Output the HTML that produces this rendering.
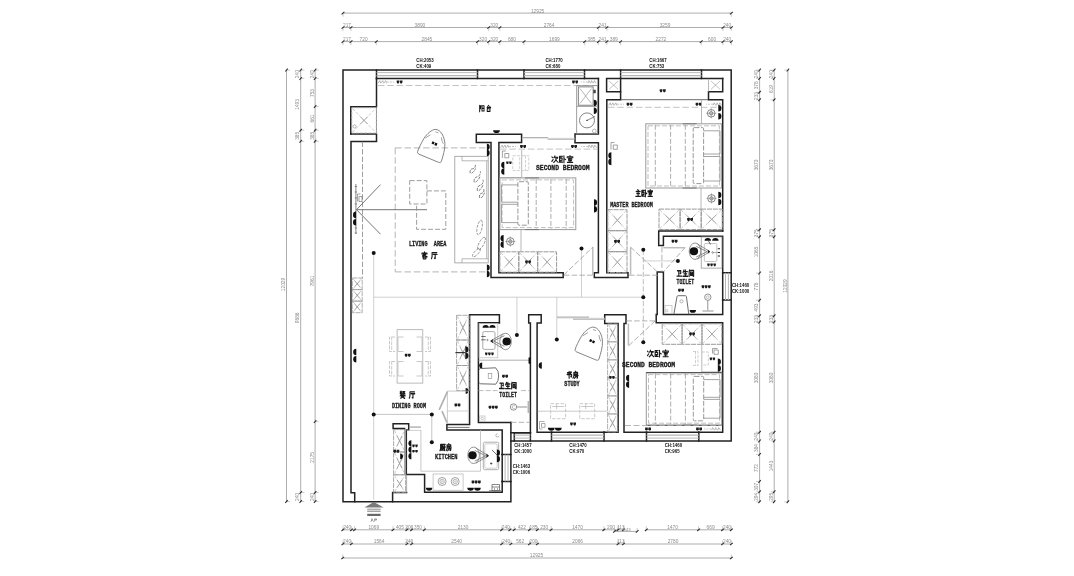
<!DOCTYPE html>
<html><head><meta charset="utf-8"><title>Floor plan</title>
<style>
html,body{margin:0;padding:0;background:#fff;}
body{width:1074px;height:576px;overflow:hidden;}
svg{display:block;}
text{font-family:"Liberation Sans",sans-serif;}
text[font-family="Liberation Mono"]{font-family:"Liberation Mono",monospace;white-space:pre;}
svg{will-change:transform;}
.tx{opacity:0.999;}
</style></head><body>
<svg width="1074" height="576" viewBox="0 0 1074 576">
<rect width="1074" height="576" fill="#fff"/>
<g stroke-linecap="square" stroke-linejoin="miter">
<path d="M343,70.1H731.2V440.9H510.9V501.8H343Z" stroke="#222" stroke-width="1.5" fill="none" />
<path d="M510.9,422.5V440.9" stroke="#222" stroke-width="1.5" fill="none" />
<path d="M376.5,78.5H598.4" stroke="#222" stroke-width="1.5" fill="none" />
<path d="M376.5,70.1V78.5M477.5,70.1V78.5M524,70.1V78.5M584.5,70.1V78.5" stroke="#222" stroke-width="1.5" fill="none" />
<path d="M376.5,78.5V106.8H350.8V134H376.5V141.6H351V492.8H354.7V501.8" stroke="#222" stroke-width="1.5" fill="none" />
<path d="M350.8,134H351" stroke="#222" stroke-width="1.5" fill="none" />
<path d="M598.4,78.5V134.1H575V142.7H598.4V272.8H594.3V277.5H628V272.8H606.8V99.7H620.6V91.8H606.6V78.6H722.7" stroke="#222" stroke-width="1.5" fill="none" />
<path d="M620.6,70.1V91.8M701.5,70.1V78.6" stroke="#222" stroke-width="1.5" fill="none" />
<path d="M722.7,78.6V91.8H708.5V99.7H722.7V231" stroke="#222" stroke-width="1.5" fill="none" />
<path d="M476.3,134.2H521.6V142.6H498.9V272.8H563.2V277.5H491V142.6H476.3Z" stroke="#222" stroke-width="1.5" fill="none" />
<path d="M722.7,231H658.7V245.6H663.4V236.2H722.7V272.8" stroke="#222" stroke-width="1.5" fill="none" />
<path d="M722.7,300V314.6H663.4V271.9H657.2V314.6H656.2V322.7H722.7V432.2H698.8" stroke="#222" stroke-width="1.5" fill="none" />
<path d="M722.7,272.8H731.2M722.7,300H731.2" stroke="#222" stroke-width="1.5" fill="none" />
<path d="M646.5,432.2H624V323.5H626V314.7H604.7V323.5H618.1V432.2H604" stroke="#222" stroke-width="1.5" fill="none" />
<path d="M646.5,432.2V440.9M698.8,432.2V440.9" stroke="#222" stroke-width="1.5" fill="none" />
<path d="M551.5,432.2H537.1V323.1H541.2V314.7H528.7V323.1H530.4V432.8H514.3" stroke="#222" stroke-width="1.5" fill="none" />
<path d="M551.5,432.2V440.9M604,432.2V440.9M514.3,432.8V440.9M530.4,432.8V440.9" stroke="#222" stroke-width="1.5" fill="none" />
<path d="M510.9,432.8H530.4M551.5,432.2H604M646.5,432.2H698.8M722.7,272.8V300M502.2,454.4V481.5" stroke="#222" stroke-width="1.5" fill="none" />
<path d="M499.4,322.7V314.7H469.6V424.5H446.9V430.1H502.2V454.4" stroke="#222" stroke-width="1.5" fill="none" />
<path d="M502.2,481.5V492.2H424.6V474.5H406.3V430H408.7V423.8H393.1V428.5H404.6" stroke="#222" stroke-width="1.5" fill="none" />
<path d="M499.4,322.7H478.4V422.5H510.9" stroke="#222" stroke-width="1.5" fill="none" />
<path d="M502.2,454.4H510.9M502.2,481.5H510.9" stroke="#222" stroke-width="1.5" fill="none" />
<path d="M392.6,492.6V501.8M392.6,492.6H406.6" stroke="#222" stroke-width="1.5" fill="none" />
</g>
<path d="M376.5,72.6L477.5,72.6" stroke="#b6b6b6" stroke-width="0.95" fill="none" />
<path d="M376.5,75.6L477.5,75.6" stroke="#b6b6b6" stroke-width="1.05" fill="none" />
<path d="M524.0,72.6L584.5,72.6" stroke="#b6b6b6" stroke-width="0.95" fill="none" />
<path d="M524.0,75.6L584.5,75.6" stroke="#b6b6b6" stroke-width="1.05" fill="none" />
<path d="M620.6,72.6L701.5,72.6" stroke="#b6b6b6" stroke-width="0.95" fill="none" />
<path d="M620.6,75.6L701.5,75.6" stroke="#b6b6b6" stroke-width="1.05" fill="none" />
<path d="M514.3,435.1L530.4,435.1" stroke="#b6b6b6" stroke-width="1.05" fill="none" />
<path d="M514.3,438.1L530.4,438.1" stroke="#b6b6b6" stroke-width="0.95" fill="none" />
<path d="M551.5,435.1L604.0,435.1" stroke="#b6b6b6" stroke-width="1.05" fill="none" />
<path d="M551.5,438.1L604.0,438.1" stroke="#b6b6b6" stroke-width="0.95" fill="none" />
<path d="M646.5,435.1L698.8,435.1" stroke="#b6b6b6" stroke-width="1.05" fill="none" />
<path d="M646.5,438.1L698.8,438.1" stroke="#b6b6b6" stroke-width="0.95" fill="none" />
<path d="M725.5,272.8L725.5,300.0" stroke="#b6b6b6" stroke-width="1.0" fill="none" />
<path d="M728.4,272.8L728.4,300.0" stroke="#b6b6b6" stroke-width="1.0" fill="none" />
<path d="M505.1,454.4L505.1,481.5" stroke="#b6b6b6" stroke-width="1.0" fill="none" />
<path d="M508.0,454.4L508.0,481.5" stroke="#b6b6b6" stroke-width="1.0" fill="none" />
<path d="M620.6,99.7L708.5,99.7" stroke="#444" stroke-width="0.8" fill="none" />
<path d="M708.5,78.6L708.5,91.8" stroke="#999" stroke-width="0.7" fill="none" />
<path d="M376.5,106.8L376.5,134.0" stroke="#8a8a8a" stroke-width="1.0" fill="none" />
<path d="M362.5,141.6L362.5,278.0" stroke="#8c8c8c" stroke-width="0.85" fill="none" stroke-dasharray="5.5 2"/>
<path d="M395.2,147.9L487.0,147.9" stroke="#a8a8a8" stroke-width="0.85" fill="none" stroke-dasharray="6.5 2.8"/>
<path d="M395.2,147.9L395.2,271.9" stroke="#a8a8a8" stroke-width="0.85" fill="none" stroke-dasharray="6.5 2.8"/>
<path d="M395.2,271.9L487.0,271.9" stroke="#a8a8a8" stroke-width="0.85" fill="none" stroke-dasharray="6.5 2.8"/>
<g transform="translate(0.0 0.0)" fill="none" stroke="#666" stroke-width="0.8"><path d="M435.2,129.4C432,129.6 427,133.5 423.9,138.5C421,143.5 418.6,148.5 417.6,151.5C417.2,152.8 417.8,153.6 419,154.2L438.5,162.3C440,162.9 441,162.5 441.4,161.3C443,156 445.2,149 444.9,143.7C444.5,137 441,129.3 435.2,129.4Z"/><path d="M425.2,138.1L430.4,134.8M441.3,137.4L442.2,141.5L443.4,143.8M435.4,131.8L438.3,132.9" stroke="#888"/><path d="M432.6,141.2l2.1,1l-1.1,2.3l-2.1,-1zM435.4,142.6l2.1,1l-1.1,2.3l-2.1,-1z" fill="#111" stroke="none"/></g>
<path d="M356.5,209.7H427M356.5,209.7L380.5,184.6M356.5,209.7L380.5,234.2" stroke="#666" stroke-width="0.9" fill="none" />
<path d="M355.9,184.0L355.9,234.0" stroke="#555" stroke-width="0.7" fill="none" />
<path d="M354.7,186.5h2.4M354.7,192h2.4M354.7,198h2.4M354.7,204h2.4M354.7,228h2.4M354.7,233h2.4" stroke="#555" stroke-width="0.6" fill="none" />
<path d="M356.1,211.6A3.1,3.3 0 0 0 356.1,218.2Z" fill="#111"/>
<path d="M356.1,218.9A3.1,3.3 0 0 0 356.1,225.5Z" fill="#111"/>
<path d="M357.5,194v7.5M357.5,194h3M359,196.5h3v5h-3z" stroke="#666" stroke-width="0.6" fill="none" />
<rect x="409.7" y="180.6" width="17.2" height="23.4" stroke="#8c8c8c" stroke-width="0.85" fill="none" stroke-dasharray="5 2"/>
<path d="M426.9,190.9H445.8V229.3H416.6V204" stroke="#8c8c8c" stroke-width="0.85" fill="none" stroke-dasharray="5 2"/>
<rect x="454.8" y="156.3" width="33.4" height="106.6" stroke="#999" stroke-width="0.8" fill="none" />
<path d="M462,156.3V160.8H488.2M462,262.9V258.8H488.2" stroke="#999" stroke-width="0.7" fill="none" />
<path d="M486.7,160.8L486.7,258.8" stroke="#999" stroke-width="0.7" fill="none" />
<path transform="translate(473 169) rotate(-50)" d="M-5,0.6Q-2.5,-2.6 0,-0.4Q2.5,1.8 5,-1.2M-4,1.6Q-1.6666666666666667,2.8 2.0,1.6" fill="none" stroke="#555" stroke-width="0.7" stroke-dasharray="3 1"/>
<path transform="translate(477.5 177) rotate(-52)" d="M-6.2,0.6Q-3.1,-2.6 0,-0.4Q3.1,1.8 6.2,-1.2M-5.2,1.6Q-2.066666666666667,2.8 2.4800000000000004,1.6" fill="none" stroke="#555" stroke-width="0.7" stroke-dasharray="3 1"/>
<path transform="translate(480.5 185.5) rotate(-55)" d="M-6.2,0.6Q-3.1,-2.6 0,-0.4Q3.1,1.8 6.2,-1.2M-5.2,1.6Q-2.066666666666667,2.8 2.4800000000000004,1.6" fill="none" stroke="#555" stroke-width="0.7" stroke-dasharray="3 1"/>
<path transform="translate(482 193.5) rotate(-58)" d="M-5,0.6Q-2.5,-2.6 0,-0.4Q2.5,1.8 5,-1.2M-4,1.6Q-1.6666666666666667,2.8 2.0,1.6" fill="none" stroke="#555" stroke-width="0.7" stroke-dasharray="3 1"/>
<ellipse cx="479.6" cy="227.5" rx="7.5" ry="2.4" transform="rotate(-78 479.6 227.5)" fill="none" stroke="#777" stroke-width="0.7" stroke-dasharray="2.8 1.2"/>
<ellipse cx="481.5" cy="243.5" rx="7" ry="2.4" transform="rotate(-62 481.5 243.5)" fill="none" stroke="#777" stroke-width="0.7" stroke-dasharray="2.8 1.2"/>
<ellipse cx="476.5" cy="252.5" rx="5.5" ry="2" transform="rotate(-48 476.5 252.5)" fill="none" stroke="#777" stroke-width="0.7" stroke-dasharray="2.8 1.2"/>
<path d="M486.9,143.8A2.8,3.1 0 0 1 486.9,150.0Z" fill="#111"/>
<path d="M486.9,149.8A2.8,3.1 0 0 1 486.9,156.0Z" fill="#111"/>
<path d="M486.9,264.4A2.8,3.2 0 0 1 486.9,270.8Z" fill="#111"/>
<path d="M486.9,270.8A2.8,3.2 0 0 1 486.9,277.2Z" fill="#111"/>
<rect x="352.3" y="278.0" width="9.9" height="11.6" stroke="#9a9a9a" stroke-width="0.8" fill="none" stroke-dasharray="5 0.8"/>
<path d="M353.3,279.0L361.2,288.6" stroke="#b4b4b4" stroke-width="0.7" fill="none" stroke-dasharray="3 1.6"/>
<path d="M353.3,288.6L361.2,279.0" stroke="#b4b4b4" stroke-width="0.7" fill="none" stroke-dasharray="3 1.6"/>
<path d="M354.8,280.9L359.7,286.7" stroke="#999" stroke-width="0.8" fill="none" />
<path d="M354.8,286.7L359.7,280.9" stroke="#999" stroke-width="0.8" fill="none" />
<rect x="352.3" y="289.6" width="9.9" height="11.5" stroke="#9a9a9a" stroke-width="0.8" fill="none" stroke-dasharray="5 0.8"/>
<path d="M353.3,290.6L361.2,300.1" stroke="#b4b4b4" stroke-width="0.7" fill="none" stroke-dasharray="3 1.6"/>
<path d="M353.3,300.1L361.2,290.6" stroke="#b4b4b4" stroke-width="0.7" fill="none" stroke-dasharray="3 1.6"/>
<path d="M354.8,292.5L359.7,298.2" stroke="#999" stroke-width="0.8" fill="none" />
<path d="M354.8,298.2L359.7,292.5" stroke="#999" stroke-width="0.8" fill="none" />
<rect x="352.3" y="301.1" width="9.9" height="11.6" stroke="#9a9a9a" stroke-width="0.8" fill="none" stroke-dasharray="5 0.8"/>
<path d="M353.3,302.1L361.2,311.7" stroke="#b4b4b4" stroke-width="0.7" fill="none" stroke-dasharray="3 1.6"/>
<path d="M353.3,311.7L361.2,302.1" stroke="#b4b4b4" stroke-width="0.7" fill="none" stroke-dasharray="3 1.6"/>
<path d="M354.8,304.0L359.7,309.8" stroke="#999" stroke-width="0.8" fill="none" />
<path d="M354.8,309.8L359.7,304.0" stroke="#999" stroke-width="0.8" fill="none" />
<path d="M373.7,253.1V499.8M373.7,297.2H643.3M581.5,248.4V297.2M643.3,260.9H678.2M516.9,297.2V334.9M556.8,297.2V339.4" stroke="#c4c4c4" stroke-width="0.8" fill="none" />
<path d="M643.3,249.7L643.3,342.2" stroke="#b0b0b0" stroke-width="0.8" fill="none" stroke-dasharray="5.5 1.8"/>
<path d="M373.7,414.4L431.8,414.4" stroke="#c0c0c0" stroke-width="0.9" fill="none" />
<path d="M431.8,414.4L431.8,442.3" stroke="#c0c0c0" stroke-width="0.9" fill="none" />
<path d="M356.3,348.7A3.1,3.3 0 0 0 356.3,355.3Z" fill="#111"/>
<path d="M356.3,356.0A3.1,3.3 0 0 0 356.3,362.6Z" fill="#111"/>
<path d="M378.0,85.5L597.0,85.5" stroke="#b8b8b8" stroke-width="0.85" fill="none" stroke-dasharray="6.5 2.8"/>
<path d="M378.0,83.2l1.8,-2.6l0.9,2.6M380.9,83.2l1.8,-2.6l0.9,2.6M383.9,83.2l1.8,-2.6l0.9,2.6" stroke="#777" stroke-width="0.5" fill="none" />
<path d="M386.8,82.0L394.0,82.0" stroke="#888" stroke-width="0.5" fill="none" stroke-dasharray="2 1"/>
<path d="M396.7,80.5h2.6v1.6l-0.7,1.3h-1.3l-0.7,-1.3z" fill="#1c1c1c"/>
<path d="M399.9,80.5h2.6v1.6l-0.7,1.3h-1.3l-0.7,-1.3z" fill="#1c1c1c"/>
<path d="M596.0,83.2l-1.6,-2.6l-0.8,2.6M593.2,83.2l-1.6,-2.6l-0.8,2.6M590.5,83.2l-1.6,-2.6l-0.8,2.6" stroke="#777" stroke-width="0.5" fill="none" />
<path d="M587.8,82.0L581.0,82.0" stroke="#888" stroke-width="0.5" fill="none" stroke-dasharray="2 1"/>
<path d="M572.2,80.5h2.6v1.6l-0.7,1.3h-1.3l-0.7,-1.3z" fill="#1c1c1c"/>
<path d="M575.4,80.5h2.6v1.6l-0.7,1.3h-1.3l-0.7,-1.3z" fill="#1c1c1c"/>
<rect x="351.8" y="107.8" width="24.5" height="25.2" stroke="#b4b4b4" stroke-width="0.7" fill="none" stroke-dasharray="3 1.2"/>
<path d="M352.8,108.8L375.3,132.0" stroke="#b4b4b4" stroke-width="0.7" fill="none" stroke-dasharray="3 1.6"/>
<path d="M352.8,132.0L375.3,108.8" stroke="#b4b4b4" stroke-width="0.7" fill="none" stroke-dasharray="3 1.6"/>
<path d="M360.6,116.9L367.5,123.9" stroke="#999" stroke-width="0.8" fill="none" />
<path d="M360.6,123.9L367.5,116.9" stroke="#999" stroke-width="0.8" fill="none" />
<circle cx="354.6" cy="126.5" r="1.6" stroke="#888" stroke-width="0.6" fill="none"/>
<rect x="576.7" y="85.7" width="20.9" height="47.9" stroke="#888" stroke-width="0.8" fill="none" />
<rect x="578.3" y="86.9" width="14.8" height="18.3" stroke="#666" stroke-width="0.8" fill="none" />
<path d="M580,88.6L591.4,103.5M591.4,88.6L580,103.5" stroke="#888" stroke-width="0.6" fill="none" />
<path d="M576.7,106.4L597.6,106.4" stroke="#888" stroke-width="0.8" fill="none" />
<circle cx="587.0" cy="120.4" r="7.5" stroke="#666" stroke-width="0.8" fill="none"/>
<circle cx="587.0" cy="120.4" r="0.7" fill="#111"/>
<path d="M587.0,120.4L595.0,116.5" stroke="#555" stroke-width="0.7" fill="none" />
<circle cx="594.3" cy="131.0" r="1.9" stroke="#888" stroke-width="0.6" fill="none"/>
<rect x="593.7" y="90.0" width="1.8" height="3.0" stroke="#444" stroke-width="0.5" fill="#444" />
<path d="M593.8,99.7A3.1,3.3 0 0 1 593.8,106.3Z" fill="#111"/>
<path d="M593.8,107.4A3.1,3.3 0 0 1 593.8,114.0Z" fill="#111"/>
<path d="M493.1,130.3A3.4,2.8 0 0 0 499.9,130.3Z" fill="#111"/>
<path d="M523,137.5H548M547.5,139.2H574.5" stroke="#b0b0b0" stroke-width="1.2" fill="none" />
<path d="M521.8,138.3L575.0,138.3" stroke="#ccc" stroke-width="0.6" fill="none" />
<path d="M500.0,149.1L597.5,149.1" stroke="#b8b8b8" stroke-width="0.85" fill="none" stroke-dasharray="6.5 2.8"/>
<path d="M500.5,147.7l1.7,-2.6l0.9,2.6M503.3,147.7l1.7,-2.6l0.9,2.6M506.2,147.7l1.7,-2.6l0.9,2.6" stroke="#777" stroke-width="0.5" fill="none" />
<path d="M509.0,146.5L516.0,146.5" stroke="#888" stroke-width="0.5" fill="none" stroke-dasharray="2 1"/>
<path d="M520.2,145.0h2.6v1.6l-0.7,1.3h-1.3l-0.7,-1.3z" fill="#1c1c1c"/>
<path d="M523.4,145.0h2.6v1.6l-0.7,1.3h-1.3l-0.7,-1.3z" fill="#1c1c1c"/>
<path d="M596.5,147.7l-1.7,-2.6l-0.9,2.6M593.7,147.7l-1.7,-2.6l-0.9,2.6M590.8,147.7l-1.7,-2.6l-0.9,2.6" stroke="#777" stroke-width="0.5" fill="none" />
<path d="M588.0,146.5L581.0,146.5" stroke="#888" stroke-width="0.5" fill="none" stroke-dasharray="2 1"/>
<path d="M571.2,145.0h2.6v1.6l-0.7,1.3h-1.3l-0.7,-1.3z" fill="#1c1c1c"/>
<path d="M574.4,145.0h2.6v1.6l-0.7,1.3h-1.3l-0.7,-1.3z" fill="#1c1c1c"/>
<path d="M521.7,150V177.6M499.3,177.6H521.7" stroke="#999" stroke-width="0.7" fill="none" />
<rect x="512.8" y="155.7" width="6.9" height="14.8" stroke="#bbb" stroke-width="0.7" fill="none" stroke-dasharray="3 1.3"/>
<path d="M522.2,155.7H528.8V170.5H522.2M525.5,155.7V170.5" stroke="#bbb" stroke-width="0.7" fill="none" stroke-dasharray="3 1.3"/>
<path d="M502.4,151v7M502.4,151h3.5M504.8,153.5h4v4.3h-4z" stroke="#666" stroke-width="0.6" fill="none" />
<path d="M504.3,161.8A3.1,3.3 0 0 0 504.3,168.4Z" fill="#111"/>
<path d="M504.3,168.2A3.1,3.3 0 0 0 504.3,174.8Z" fill="#111"/>
<path d="M506.2,161.4h2.4v1.5l-0.6,1.2h-1.2l-0.6,-1.2z" fill="#1c1c1c"/>
<path d="M509.2,161.4h2.4v1.5l-0.6,1.2h-1.2l-0.6,-1.2z" fill="#1c1c1c"/>
<rect x="499.9" y="177.9" width="75.9" height="51.7" stroke="#9a9a9a" stroke-width="1.0" fill="none" />
<rect x="502.1" y="179.9" width="71.5" height="47.7" stroke="#b0b0b0" stroke-width="0.8" fill="none" stroke-dasharray="5 2"/>
<path d="M517.9,184.9H501.5V202.2H517.9" stroke="#9a9a9a" stroke-width="0.9" fill="none" />
<path d="M517.9,204.3H501.5V222.6H517.9" stroke="#9a9a9a" stroke-width="0.9" fill="none" />
<rect x="517.9" y="181.7" width="10.4" height="43.5" rx="1.2" fill="none" stroke="#8c8c8c" stroke-width="0.9" stroke-dasharray="5 1.6"/>
<path d="M536.2,178.9L536.2,228.6" stroke="#a4a4a4" stroke-width="0.9" fill="none" stroke-dasharray="5 2"/>
<path d="M550.9,178.9L550.9,228.6" stroke="#a4a4a4" stroke-width="0.9" fill="none" stroke-dasharray="5 2"/>
<path d="M566.2,178.9L566.2,228.6" stroke="#a4a4a4" stroke-width="0.9" fill="none" stroke-dasharray="5 2"/>
<path d="M524.9,177.9L538.9,177.9" stroke="#777" stroke-width="1.0" fill="none" />
<path d="M524.9,229.6L538.9,229.6" stroke="#777" stroke-width="1.0" fill="none" />
<path d="M521,229.6V251.8" stroke="#999" stroke-width="0.7" fill="none" />
<circle cx="510.3" cy="241.5" r="3.8" stroke="#555" stroke-width="0.7" fill="none"/>
<circle cx="510.3" cy="241.5" r="1.7" stroke="#555" stroke-width="0.7" fill="none"/>
<path d="M505.2,241.5L515.4,241.5" stroke="#777" stroke-width="0.5" fill="none" />
<path d="M510.3,236.4L510.3,246.6" stroke="#777" stroke-width="0.5" fill="none" />
<path d="M503.6,235.0A3.1,3.3 0 0 0 503.6,241.6Z" fill="#111"/>
<path d="M503.6,241.3A3.1,3.3 0 0 0 503.6,247.9Z" fill="#111"/>
<rect x="499.9" y="251.8" width="18.9" height="20.4" stroke="#9a9a9a" stroke-width="1.0" fill="none" stroke-dasharray="5 0.8"/>
<path d="M500.9,252.8L517.8,271.2" stroke="#b4b4b4" stroke-width="0.7" fill="none" stroke-dasharray="3 1.6"/>
<path d="M500.9,271.2L517.8,252.8" stroke="#b4b4b4" stroke-width="0.7" fill="none" stroke-dasharray="3 1.6"/>
<path d="M505.6,257.9L513.1,266.1" stroke="#999" stroke-width="0.8" fill="none" />
<path d="M505.6,266.1L513.1,257.9" stroke="#999" stroke-width="0.8" fill="none" />
<rect x="518.8" y="251.8" width="18.9" height="20.4" stroke="#9a9a9a" stroke-width="1.0" fill="none" stroke-dasharray="5 0.8"/>
<path d="M519.8,252.8L536.7,271.2" stroke="#b4b4b4" stroke-width="0.7" fill="none" stroke-dasharray="3 1.6"/>
<path d="M519.8,271.2L536.7,252.8" stroke="#b4b4b4" stroke-width="0.7" fill="none" stroke-dasharray="3 1.6"/>
<path d="M524.5,257.9L532.0,266.1" stroke="#999" stroke-width="0.8" fill="none" />
<path d="M524.5,266.1L532.0,257.9" stroke="#999" stroke-width="0.8" fill="none" />
<rect x="537.7" y="251.8" width="18.9" height="20.4" stroke="#9a9a9a" stroke-width="1.0" fill="none" stroke-dasharray="5 0.8"/>
<path d="M538.7,252.8L555.6,271.2" stroke="#b4b4b4" stroke-width="0.7" fill="none" stroke-dasharray="3 1.6"/>
<path d="M538.7,271.2L555.6,252.8" stroke="#b4b4b4" stroke-width="0.7" fill="none" stroke-dasharray="3 1.6"/>
<path d="M543.4,257.9L550.9,266.1" stroke="#999" stroke-width="0.8" fill="none" />
<path d="M543.4,266.1L550.9,257.9" stroke="#999" stroke-width="0.8" fill="none" />
<path d="M525.2,260.5h2.6v1.6l-0.7,1.3h-1.3l-0.7,-1.3z" fill="#1c1c1c"/>
<path d="M528.4,260.5h2.6v1.6l-0.7,1.3h-1.3l-0.7,-1.3z" fill="#1c1c1c"/>
<path d="M594.0,199.3A3.1,3.3 0 0 1 594.0,205.9Z" fill="#111"/>
<path d="M594.0,205.9A3.1,3.3 0 0 1 594.0,212.5Z" fill="#111"/>
<path d="M592.8,247.1V275" stroke="#bdbdbd" stroke-width="1.5" fill="none" />
<path d="M563.6,275.2L592.8,247.1" stroke="#a0a0a0" stroke-width="0.85" fill="none" stroke-dasharray="5.5 2.2"/>
<path d="M564.0,275.2L594.0,275.2" stroke="#a4a4a4" stroke-width="0.85" fill="none" stroke-dasharray="5.5 2.2"/>
<path d="M608.0,107.3L722.0,107.3" stroke="#b8b8b8" stroke-width="0.85" fill="none" stroke-dasharray="6.5 2.8"/>
<path d="M608.5,105.4l1.7,-2.6l0.9,2.6M611.3,105.4l1.7,-2.6l0.9,2.6M614.2,105.4l1.7,-2.6l0.9,2.6" stroke="#777" stroke-width="0.5" fill="none" />
<path d="M617.0,104.2L624.0,104.2" stroke="#888" stroke-width="0.5" fill="none" stroke-dasharray="2 1"/>
<path d="M626.7,102.8h2.6v1.6l-0.7,1.3h-1.3l-0.7,-1.3z" fill="#1c1c1c"/>
<path d="M629.9,102.8h2.6v1.6l-0.7,1.3h-1.3l-0.7,-1.3z" fill="#1c1c1c"/>
<path d="M721.5,105.4l-1.7,-2.6l-0.9,2.6M718.7,105.4l-1.7,-2.6l-0.9,2.6M715.8,105.4l-1.7,-2.6l-0.9,2.6" stroke="#777" stroke-width="0.5" fill="none" />
<path d="M713.0,104.2L706.0,104.2" stroke="#888" stroke-width="0.5" fill="none" stroke-dasharray="2 1"/>
<path d="M695.7,102.8h2.6v1.6l-0.7,1.3h-1.3l-0.7,-1.3z" fill="#1c1c1c"/>
<path d="M698.9,102.8h2.6v1.6l-0.7,1.3h-1.3l-0.7,-1.3z" fill="#1c1c1c"/>
<path d="M659.7,89.2h2.7v1.7l-0.7,1.4h-1.3l-0.7,-1.4z" fill="#1c1c1c"/>
<path d="M663.0,89.2h2.7v1.7l-0.7,1.4h-1.3l-0.7,-1.4z" fill="#1c1c1c"/>
<path d="M609.2,81.2l8.8,8M618.0,81.2l-8.8,8" stroke="#999" stroke-width="0.6" fill="none" />
<path d="M711.1,81.2l8.8,8M719.9,81.2l-8.8,8" stroke="#999" stroke-width="0.6" fill="none" />
<path d="M701.5,99.7V123.4" stroke="#999" stroke-width="0.7" fill="none" />
<circle cx="711.2" cy="113.3" r="3.8" stroke="#555" stroke-width="0.7" fill="none"/>
<circle cx="711.2" cy="113.3" r="1.7" stroke="#555" stroke-width="0.7" fill="none"/>
<path d="M706.1,113.3L716.3,113.3" stroke="#777" stroke-width="0.5" fill="none" />
<path d="M711.2,108.2L711.2,118.4" stroke="#777" stroke-width="0.5" fill="none" />
<path d="M718.3,105.0A3.1,3.3 0 0 1 718.3,111.6Z" fill="#111"/>
<path d="M718.3,113.0A3.1,3.3 0 0 1 718.3,119.6Z" fill="#111"/>
<rect x="645.8" y="123.8" width="75.8" height="64.2" stroke="#9a9a9a" stroke-width="1.0" fill="none" />
<rect x="648.0" y="125.8" width="71.4" height="60.2" stroke="#b0b0b0" stroke-width="0.8" fill="none" stroke-dasharray="5 2"/>
<path d="M703.6,130.8H720.0V154.0H703.6" stroke="#9a9a9a" stroke-width="0.9" fill="none" />
<path d="M703.6,156.5H720.0V181.0H703.6" stroke="#9a9a9a" stroke-width="0.9" fill="none" />
<rect x="693.2" y="127.6" width="10.4" height="56.0" rx="1.2" fill="none" stroke="#8c8c8c" stroke-width="0.9" stroke-dasharray="5 1.6"/>
<path d="M685.3,124.8L685.3,187.0" stroke="#a4a4a4" stroke-width="0.9" fill="none" stroke-dasharray="5 2"/>
<path d="M670.6,124.8L670.6,187.0" stroke="#a4a4a4" stroke-width="0.9" fill="none" stroke-dasharray="5 2"/>
<path d="M655.3,124.8L655.3,187.0" stroke="#a4a4a4" stroke-width="0.9" fill="none" stroke-dasharray="5 2"/>
<path d="M696.6,123.8L682.6,123.8" stroke="#777" stroke-width="1.0" fill="none" />
<path d="M696.6,188.0L682.6,188.0" stroke="#777" stroke-width="1.0" fill="none" />
<path d="M701,188V209.1" stroke="#999" stroke-width="0.7" fill="none" />
<circle cx="711.5" cy="198.4" r="3.8" stroke="#555" stroke-width="0.7" fill="none"/>
<circle cx="711.5" cy="198.4" r="1.7" stroke="#555" stroke-width="0.7" fill="none"/>
<path d="M706.4,198.4L716.6,198.4" stroke="#777" stroke-width="0.5" fill="none" />
<path d="M711.5,193.3L711.5,203.5" stroke="#777" stroke-width="0.5" fill="none" />
<path d="M718.3,191.7A3.1,3.3 0 0 1 718.3,198.3Z" fill="#111"/>
<path d="M718.3,198.7A3.1,3.3 0 0 1 718.3,205.3Z" fill="#111"/>
<rect x="659.0" y="209.1" width="21.1" height="20.4" stroke="#9a9a9a" stroke-width="1.0" fill="none" stroke-dasharray="5 0.8"/>
<path d="M660.0,210.1L679.1,228.5" stroke="#b4b4b4" stroke-width="0.7" fill="none" stroke-dasharray="3 1.6"/>
<path d="M660.0,228.5L679.1,210.1" stroke="#b4b4b4" stroke-width="0.7" fill="none" stroke-dasharray="3 1.6"/>
<path d="M665.3,215.2L673.8,223.4" stroke="#999" stroke-width="0.8" fill="none" />
<path d="M665.3,223.4L673.8,215.2" stroke="#999" stroke-width="0.8" fill="none" />
<rect x="680.1" y="209.1" width="21.1" height="20.4" stroke="#9a9a9a" stroke-width="1.0" fill="none" stroke-dasharray="5 0.8"/>
<path d="M681.1,210.1L700.2,228.5" stroke="#b4b4b4" stroke-width="0.7" fill="none" stroke-dasharray="3 1.6"/>
<path d="M681.1,228.5L700.2,210.1" stroke="#b4b4b4" stroke-width="0.7" fill="none" stroke-dasharray="3 1.6"/>
<path d="M686.4,215.2L694.9,223.4" stroke="#999" stroke-width="0.8" fill="none" />
<path d="M686.4,223.4L694.9,215.2" stroke="#999" stroke-width="0.8" fill="none" />
<rect x="701.2" y="209.1" width="21.1" height="20.4" stroke="#9a9a9a" stroke-width="1.0" fill="none" stroke-dasharray="5 0.8"/>
<path d="M702.2,210.1L721.3,228.5" stroke="#b4b4b4" stroke-width="0.7" fill="none" stroke-dasharray="3 1.6"/>
<path d="M702.2,228.5L721.3,210.1" stroke="#b4b4b4" stroke-width="0.7" fill="none" stroke-dasharray="3 1.6"/>
<path d="M707.5,215.2L716.0,223.4" stroke="#999" stroke-width="0.8" fill="none" />
<path d="M707.5,223.4L716.0,215.2" stroke="#999" stroke-width="0.8" fill="none" />
<path d="M687.2,218.0h2.6v1.6l-0.7,1.3h-1.3l-0.7,-1.3z" fill="#1c1c1c"/>
<path d="M690.4,218.0h2.6v1.6l-0.7,1.3h-1.3l-0.7,-1.3z" fill="#1c1c1c"/>
<rect x="607.8" y="209.7" width="19.2" height="21.0" stroke="#9a9a9a" stroke-width="1.0" fill="none" stroke-dasharray="5 0.8"/>
<path d="M608.8,210.7L626.0,229.7" stroke="#b4b4b4" stroke-width="0.7" fill="none" stroke-dasharray="3 1.6"/>
<path d="M608.8,229.7L626.0,210.7" stroke="#b4b4b4" stroke-width="0.7" fill="none" stroke-dasharray="3 1.6"/>
<path d="M613.6,216.0L621.2,224.4" stroke="#999" stroke-width="0.8" fill="none" />
<path d="M613.6,224.4L621.2,216.0" stroke="#999" stroke-width="0.8" fill="none" />
<rect x="607.8" y="230.7" width="19.2" height="21.0" stroke="#9a9a9a" stroke-width="1.0" fill="none" stroke-dasharray="5 0.8"/>
<path d="M608.8,231.7L626.0,250.7" stroke="#b4b4b4" stroke-width="0.7" fill="none" stroke-dasharray="3 1.6"/>
<path d="M608.8,250.7L626.0,231.7" stroke="#b4b4b4" stroke-width="0.7" fill="none" stroke-dasharray="3 1.6"/>
<path d="M613.6,237.0L621.2,245.4" stroke="#999" stroke-width="0.8" fill="none" />
<path d="M613.6,245.4L621.2,237.0" stroke="#999" stroke-width="0.8" fill="none" />
<rect x="607.8" y="251.7" width="19.2" height="21.0" stroke="#9a9a9a" stroke-width="1.0" fill="none" stroke-dasharray="5 0.8"/>
<path d="M608.8,252.7L626.0,271.7" stroke="#b4b4b4" stroke-width="0.7" fill="none" stroke-dasharray="3 1.6"/>
<path d="M608.8,271.7L626.0,252.7" stroke="#b4b4b4" stroke-width="0.7" fill="none" stroke-dasharray="3 1.6"/>
<path d="M613.6,258.0L621.2,266.4" stroke="#999" stroke-width="0.8" fill="none" />
<path d="M613.6,266.4L621.2,258.0" stroke="#999" stroke-width="0.8" fill="none" />
<path d="M614.2,240.0h2.6v1.6l-0.7,1.3h-1.3l-0.7,-1.3z" fill="#1c1c1c"/>
<path d="M617.4,240.0h2.6v1.6l-0.7,1.3h-1.3l-0.7,-1.3z" fill="#1c1c1c"/>
<path d="M611,142.5v7M611,142.5h3.5M613.3,145h4v4.3h-4z" stroke="#666" stroke-width="0.6" fill="none" />
<path d="M611.4,152.3A3.1,3.3 0 0 0 611.4,158.9Z" fill="#111"/>
<path d="M611.4,158.6A3.1,3.3 0 0 0 611.4,165.2Z" fill="#111"/>
<path d="M630.6,247.4V274.7" stroke="#bdbdbd" stroke-width="1.5" fill="none" />
<path d="M630.5,247.1L658.0,272.5" stroke="#a0a0a0" stroke-width="0.85" fill="none" stroke-dasharray="5.5 2.2"/>
<path d="M629.0,275.2L658.0,275.2" stroke="#a4a4a4" stroke-width="0.85" fill="none" stroke-dasharray="5.5 2.2"/>
<path d="M661.9,247.0L661.9,272.0" stroke="#a4a4a4" stroke-width="0.85" fill="none" stroke-dasharray="5.5 2.2"/>
<path d="M663.4,247.7H684.8" stroke="#bdbdbd" stroke-width="1.5" fill="none" />
<path d="M685.3,247.3L663.6,271.7" stroke="#a0a0a0" stroke-width="0.85" fill="none" stroke-dasharray="5.5 2.2"/>
<path d="M671.7,239.8h2.6v1.6l-0.7,1.3h-1.3l-0.7,-1.3z" fill="#1c1c1c"/>
<path d="M674.9,239.8h2.6v1.6l-0.7,1.3h-1.3l-0.7,-1.3z" fill="#1c1c1c"/>
<rect x="701.2" y="236.9" width="20.8" height="31.2" stroke="#888" stroke-width="0.7" fill="none" />
<rect x="704.3" y="243.5" width="12.5" height="18.0" stroke="#aaa" stroke-width="0.7" fill="none" rx="1.2"/>
<path d="M717.8,248.7h2.2M717.8,252.5h2.2M717.8,256h2.2" stroke="#222" stroke-width="1.1" fill="none" />
<path d="M713.4,252.5L718.0,252.5" stroke="#888" stroke-width="0.6" fill="none" />
<path d="M708.5,241.0L710.6,244.5" stroke="#222" stroke-width="0.7" fill="none" />
<circle cx="712.6" cy="252.5" r="0.8" stroke="#444" stroke-width="0.5" fill="none"/>
<path d="M704.6,240.7A3.2,2.6 0 0 1 711.0,240.7Z" fill="#111"/>
<path d="M712.2,240.7A3.2,2.6 0 0 1 718.6,240.7Z" fill="#111"/>
<path d="M707.2,263.5h2.5v1.5l-0.6,1.3h-1.2l-0.6,-1.3z" fill="#1c1c1c"/>
<path d="M710.3,263.5h2.5v1.5l-0.6,1.3h-1.2l-0.6,-1.3z" fill="#1c1c1c"/>
<path d="M713.4,263.5h2.5v1.5l-0.6,1.3h-1.2l-0.6,-1.3z" fill="#1c1c1c"/>
<g transform="translate(695.0 251.2) rotate(0)"><ellipse cx="0" cy="0" rx="5.8" ry="8.2" fill="none" stroke="#666" stroke-width="0.7"/><path d="M2.4,-7.2L15,0.5L2.4,7.8M1.2,-4.8L12.2,0.5L1.2,5.8" fill="none" stroke="#666" stroke-width="0.7"/><path d="M12.8,-1.8L15.2,0.5L12.8,2.6Z" fill="#222"/><ellipse cx="-1.1" cy="0" rx="4.2" ry="4.0" fill="#111"/></g>
<path d="M678.2,288.8h2.6v1.6l-0.7,1.3h-1.3l-0.7,-1.3z" fill="#1c1c1c"/>
<path d="M681.4,288.8h2.6v1.6l-0.7,1.3h-1.3l-0.7,-1.3z" fill="#1c1c1c"/>
<path d="M701.7,285.3h2.6v1.6l-0.7,1.3h-1.3l-0.7,-1.3z" fill="#1c1c1c"/>
<path d="M704.9,285.3h2.6v1.6l-0.7,1.3h-1.3l-0.7,-1.3z" fill="#1c1c1c"/>
<path d="M708.1,285.3h2.6v1.6l-0.7,1.3h-1.3l-0.7,-1.3z" fill="#1c1c1c"/>
<path d="M673.9,314.2L677,296.6Q677.2,295.7 678.1,295.7H685.3Q686.2,295.7 686.4,296.6L688.8,314.2" stroke="#666" stroke-width="0.95" fill="none" />
<circle cx="681.5" cy="301.3" r="1.6" stroke="#888" stroke-width="0.6" fill="none"/>
<rect x="665.0" y="305.5" width="7.0" height="8.0" stroke="#bbb" stroke-width="0.7" fill="none" />
<circle cx="666.8" cy="310.8" r="1.2" stroke="#999" stroke-width="0.5" fill="none"/>
<path d="M689.6,309.9A3.2,2.9 0 0 0 696.0,309.9Z" fill="#111"/>
<circle cx="707.8" cy="297.2" r="3.2" stroke="#777" stroke-width="0.8" fill="none"/>
<circle cx="707.8" cy="297.2" r="1.4" stroke="#999" stroke-width="0.6" fill="none"/>
<path d="M707.8,300.4V310.3M702.5,311H713.5" stroke="#888" stroke-width="0.9" fill="none" />
<rect x="662.2" y="323.8" width="19.9" height="20.5" stroke="#9a9a9a" stroke-width="1.0" fill="none" stroke-dasharray="5 0.8"/>
<path d="M663.2,324.8L681.1,343.3" stroke="#b4b4b4" stroke-width="0.7" fill="none" stroke-dasharray="3 1.6"/>
<path d="M663.2,343.3L681.1,324.8" stroke="#b4b4b4" stroke-width="0.7" fill="none" stroke-dasharray="3 1.6"/>
<path d="M668.2,329.9L676.1,338.2" stroke="#999" stroke-width="0.8" fill="none" />
<path d="M668.2,338.2L676.1,329.9" stroke="#999" stroke-width="0.8" fill="none" />
<rect x="682.1" y="323.8" width="19.9" height="20.5" stroke="#9a9a9a" stroke-width="1.0" fill="none" stroke-dasharray="5 0.8"/>
<path d="M683.1,324.8L701.0,343.3" stroke="#b4b4b4" stroke-width="0.7" fill="none" stroke-dasharray="3 1.6"/>
<path d="M683.1,343.3L701.0,324.8" stroke="#b4b4b4" stroke-width="0.7" fill="none" stroke-dasharray="3 1.6"/>
<path d="M688.1,329.9L696.0,338.2" stroke="#999" stroke-width="0.8" fill="none" />
<path d="M688.1,338.2L696.0,329.9" stroke="#999" stroke-width="0.8" fill="none" />
<rect x="702.0" y="323.8" width="19.9" height="20.5" stroke="#9a9a9a" stroke-width="1.0" fill="none" stroke-dasharray="5 0.8"/>
<path d="M703.0,324.8L720.9,343.3" stroke="#b4b4b4" stroke-width="0.7" fill="none" stroke-dasharray="3 1.6"/>
<path d="M703.0,343.3L720.9,324.8" stroke="#b4b4b4" stroke-width="0.7" fill="none" stroke-dasharray="3 1.6"/>
<path d="M708.0,329.9L715.9,338.2" stroke="#999" stroke-width="0.8" fill="none" />
<path d="M708.0,338.2L715.9,329.9" stroke="#999" stroke-width="0.8" fill="none" />
<path d="M689.2,332.5h2.6v1.6l-0.7,1.3h-1.3l-0.7,-1.3z" fill="#1c1c1c"/>
<path d="M692.4,332.5h2.6v1.6l-0.7,1.3h-1.3l-0.7,-1.3z" fill="#1c1c1c"/>
<path d="M701.8,344.3V371.9M701.8,371.9H722" stroke="#999" stroke-width="0.7" fill="none" />
<path d="M693,351.5H698V365.5H693M695.5,351.5V365.5" stroke="#bbb" stroke-width="0.7" fill="none" stroke-dasharray="3 1.3"/>
<path d="M701.8,352h6.5v13h-6.5" stroke="#bbb" stroke-width="0.7" fill="none" stroke-dasharray="3 1.3"/>
<path d="M712.5,348.5h5M712.5,348.5v5M714,350h4.3v4.3h-4.3z" stroke="#666" stroke-width="0.6" fill="none" />
<path d="M717.8,358.5A3.1,3.3 0 0 1 717.8,365.1Z" fill="#111"/>
<path d="M717.8,365.1A3.1,3.3 0 0 1 717.8,371.7Z" fill="#111"/>
<path d="M709.7,357.5h2.4v1.5l-0.6,1.2h-1.2l-0.6,-1.2z" fill="#1c1c1c"/>
<path d="M712.7,357.5h2.4v1.5l-0.6,1.2h-1.2l-0.6,-1.2z" fill="#1c1c1c"/>
<rect x="646.3" y="372.6" width="75.4" height="52.6" stroke="#9a9a9a" stroke-width="1.0" fill="none" />
<rect x="648.5" y="374.6" width="71.0" height="48.6" stroke="#b0b0b0" stroke-width="0.8" fill="none" stroke-dasharray="5 2"/>
<path d="M703.7,379.6H720.1V397.3H703.7" stroke="#9a9a9a" stroke-width="0.9" fill="none" />
<path d="M703.7,399.4H720.1V418.2H703.7" stroke="#9a9a9a" stroke-width="0.9" fill="none" />
<rect x="693.3" y="376.4" width="10.4" height="44.4" rx="1.2" fill="none" stroke="#8c8c8c" stroke-width="0.9" stroke-dasharray="5 1.6"/>
<path d="M685.4,373.6L685.4,424.2" stroke="#a4a4a4" stroke-width="0.9" fill="none" stroke-dasharray="5 2"/>
<path d="M670.7,373.6L670.7,424.2" stroke="#a4a4a4" stroke-width="0.9" fill="none" stroke-dasharray="5 2"/>
<path d="M655.4,373.6L655.4,424.2" stroke="#a4a4a4" stroke-width="0.9" fill="none" stroke-dasharray="5 2"/>
<path d="M696.7,372.6L682.7,372.6" stroke="#777" stroke-width="1.0" fill="none" />
<path d="M696.7,425.2L682.7,425.2" stroke="#777" stroke-width="1.0" fill="none" />
<path d="M646.3,372.6L721.7,372.6" stroke="#555" stroke-width="1.1" fill="none" />
<path d="M646.3,425.4L721.7,425.4" stroke="#666" stroke-width="1.1" fill="none" />
<path d="M625.0,425.5L722.0,425.5" stroke="#a8a8a8" stroke-width="0.85" fill="none" stroke-dasharray="6 2.5"/>
<path d="M645.2,427.6h2.6v1.6l-0.7,1.3h-1.3l-0.7,-1.3z" fill="#1c1c1c"/>
<path d="M648.4,427.6h2.6v1.6l-0.7,1.3h-1.3l-0.7,-1.3z" fill="#1c1c1c"/>
<path d="M696.2,427.6h2.6v1.6l-0.7,1.3h-1.3l-0.7,-1.3z" fill="#1c1c1c"/>
<path d="M699.4,427.6h2.6v1.6l-0.7,1.3h-1.3l-0.7,-1.3z" fill="#1c1c1c"/>
<path d="M720.5,430.2l-1.8,-2.6l-0.9,2.6M717.5,430.2l-1.8,-2.6l-0.9,2.6M714.5,430.2l-1.8,-2.6l-0.9,2.6" stroke="#777" stroke-width="0.5" fill="none" />
<path d="M711.4,429.0L704.0,429.0" stroke="#888" stroke-width="0.5" fill="none" stroke-dasharray="2 1"/>
<path d="M629.1,374.7A3.1,3.3 0 0 0 629.1,381.3Z" fill="#111"/>
<path d="M629.1,381.3A3.1,3.3 0 0 0 629.1,387.9Z" fill="#111"/>
<path d="M628.4,323.5V345.6" stroke="#bdbdbd" stroke-width="1.5" fill="none" />
<path d="M628.8,345.6L655.6,320.5" stroke="#a0a0a0" stroke-width="0.85" fill="none" stroke-dasharray="5.5 2.2"/>
<path d="M626.5,320.9L656.0,320.9" stroke="#a4a4a4" stroke-width="0.85" fill="none" stroke-dasharray="5.5 2.2"/>
<g transform="translate(157.6 197.7)" fill="none" stroke="#666" stroke-width="0.8"><path d="M435.2,129.4C432,129.6 427,133.5 423.9,138.5C421,143.5 418.6,148.5 417.6,151.5C417.2,152.8 417.8,153.6 419,154.2L438.5,162.3C440,162.9 441,162.5 441.4,161.3C443,156 445.2,149 444.9,143.7C444.5,137 441,129.3 435.2,129.4Z"/><path d="M425.2,138.1L430.4,134.8M441.3,137.4L442.2,141.5L443.4,143.8M435.4,131.8L438.3,132.9" stroke="#888"/><path d="M432.6,141.2l2.1,1l-1.1,2.3l-2.1,-1zM435.4,142.6l2.1,1l-1.1,2.3l-2.1,-1z" fill="#111" stroke="none"/></g>
<rect x="607.6" y="323.8" width="9.8" height="18.0" stroke="#9a9a9a" stroke-width="0.8" fill="none" stroke-dasharray="5 0.8"/>
<path d="M608.6,324.8L616.4,340.8" stroke="#b4b4b4" stroke-width="0.7" fill="none" stroke-dasharray="3 1.6"/>
<path d="M608.6,340.8L616.4,324.8" stroke="#b4b4b4" stroke-width="0.7" fill="none" stroke-dasharray="3 1.6"/>
<path d="M610.0,328.3L615.0,337.3" stroke="#999" stroke-width="0.8" fill="none" />
<path d="M610.0,337.3L615.0,328.3" stroke="#999" stroke-width="0.8" fill="none" />
<rect x="607.6" y="341.8" width="9.8" height="18.0" stroke="#9a9a9a" stroke-width="0.8" fill="none" stroke-dasharray="5 0.8"/>
<path d="M608.6,342.8L616.4,358.9" stroke="#b4b4b4" stroke-width="0.7" fill="none" stroke-dasharray="3 1.6"/>
<path d="M608.6,358.9L616.4,342.8" stroke="#b4b4b4" stroke-width="0.7" fill="none" stroke-dasharray="3 1.6"/>
<path d="M610.0,346.3L615.0,355.4" stroke="#999" stroke-width="0.8" fill="none" />
<path d="M610.0,355.4L615.0,346.3" stroke="#999" stroke-width="0.8" fill="none" />
<rect x="607.6" y="359.9" width="9.8" height="18.0" stroke="#9a9a9a" stroke-width="0.8" fill="none" stroke-dasharray="5 0.8"/>
<path d="M608.6,360.9L616.4,376.9" stroke="#b4b4b4" stroke-width="0.7" fill="none" stroke-dasharray="3 1.6"/>
<path d="M608.6,376.9L616.4,360.9" stroke="#b4b4b4" stroke-width="0.7" fill="none" stroke-dasharray="3 1.6"/>
<path d="M610.0,364.4L615.0,373.4" stroke="#999" stroke-width="0.8" fill="none" />
<path d="M610.0,373.4L615.0,364.4" stroke="#999" stroke-width="0.8" fill="none" />
<rect x="607.6" y="377.9" width="9.8" height="18.0" stroke="#9a9a9a" stroke-width="0.8" fill="none" stroke-dasharray="5 0.8"/>
<path d="M608.6,378.9L616.4,394.9" stroke="#b4b4b4" stroke-width="0.7" fill="none" stroke-dasharray="3 1.6"/>
<path d="M608.6,394.9L616.4,378.9" stroke="#b4b4b4" stroke-width="0.7" fill="none" stroke-dasharray="3 1.6"/>
<path d="M610.0,382.4L615.0,391.4" stroke="#999" stroke-width="0.8" fill="none" />
<path d="M610.0,391.4L615.0,382.4" stroke="#999" stroke-width="0.8" fill="none" />
<rect x="607.6" y="395.9" width="9.8" height="18.0" stroke="#9a9a9a" stroke-width="0.8" fill="none" stroke-dasharray="5 0.8"/>
<path d="M608.6,396.9L616.4,413.0" stroke="#b4b4b4" stroke-width="0.7" fill="none" stroke-dasharray="3 1.6"/>
<path d="M608.6,413.0L616.4,396.9" stroke="#b4b4b4" stroke-width="0.7" fill="none" stroke-dasharray="3 1.6"/>
<path d="M610.0,400.4L615.0,409.5" stroke="#999" stroke-width="0.8" fill="none" />
<path d="M610.0,409.5L615.0,400.4" stroke="#999" stroke-width="0.8" fill="none" />
<rect x="607.6" y="414.0" width="9.8" height="18.0" stroke="#9a9a9a" stroke-width="0.8" fill="none" stroke-dasharray="5 0.8"/>
<path d="M608.6,415.0L616.4,431.0" stroke="#b4b4b4" stroke-width="0.7" fill="none" stroke-dasharray="3 1.6"/>
<path d="M608.6,431.0L616.4,415.0" stroke="#b4b4b4" stroke-width="0.7" fill="none" stroke-dasharray="3 1.6"/>
<path d="M610.0,418.5L615.0,427.5" stroke="#999" stroke-width="0.8" fill="none" />
<path d="M610.0,427.5L615.0,418.5" stroke="#999" stroke-width="0.8" fill="none" />
<path d="M609.2,376.0h2.4v1.5l-0.6,1.2h-1.2l-0.6,-1.2z" fill="#1c1c1c"/>
<path d="M612.2,376.0h2.4v1.5l-0.6,1.2h-1.2l-0.6,-1.2z" fill="#1c1c1c"/>
<path d="M556.8,317.2H589M573,319.2H605" stroke="#b0b0b0" stroke-width="1.2" fill="none" />
<path d="M556.8,318.2L605.0,318.2" stroke="#ccc" stroke-width="0.6" fill="none" />
<path d="M541.8,362.2A3.1,3.3 0 0 0 541.8,368.8Z" fill="#111"/>
<path d="M537.6,411.2L607.0,411.2" stroke="#bbb" stroke-width="0.8" fill="none" />
<path d="M550.6,403.7H565.6V418.7H550.6Z" stroke="#bbb" stroke-width="0.8" fill="none" stroke-dasharray="3.5 1.5"/>
<path d="M552.1,406.5H564.1M556.6,403.7V409" stroke="#bbb" stroke-width="0.8" fill="none" />
<path d="M579.7,403.7H594.7V418.7H579.7Z" stroke="#bbb" stroke-width="0.8" fill="none" stroke-dasharray="3.5 1.5"/>
<path d="M581.2,406.5H593.2M585.7,403.7V409" stroke="#bbb" stroke-width="0.8" fill="none" />
<path d="M570.2,422.5h2.6v1.6l-0.7,1.3h-1.3l-0.7,-1.3z" fill="#1c1c1c"/>
<path d="M573.4,422.5h2.6v1.6l-0.7,1.3h-1.3l-0.7,-1.3z" fill="#1c1c1c"/>
<path d="M539.5,421.5v7.5M539.5,421.5h5M541.5,423.5h3.5v3.8h-3.5zM539.5,429h3" stroke="#777" stroke-width="0.6" fill="none" />
<path d="M547.9,427.8A3.4,3.0 0 0 0 554.7,427.8Z" fill="#111"/>
<path d="M554.9,427.8A3.4,3.0 0 0 0 561.7,427.8Z" fill="#111"/>
<rect x="479.0" y="323.5" width="18.8" height="34.3" stroke="#bbb" stroke-width="0.7" fill="none" />
<rect x="482.8" y="331.6" width="12.2" height="17.8" stroke="#888" stroke-width="0.7" fill="none" rx="1.5"/>
<path d="M481.2,336.5h4.5M481.2,339.8h4.5" stroke="#333" stroke-width="0.7" fill="none" />
<circle cx="487.5" cy="340.0" r="0.7" stroke="#444" stroke-width="0.5" fill="none"/>
<path d="M482.5,327.8A3.2,2.9 0 0 1 488.9,327.8Z" fill="#111"/>
<path d="M489.2,327.8A3.2,2.9 0 0 1 495.6,327.8Z" fill="#111"/>
<path d="M485.0,352.5h2.5v1.5l-0.6,1.3h-1.2l-0.6,-1.3z" fill="#1c1c1c"/>
<path d="M488.1,352.5h2.5v1.5l-0.6,1.3h-1.2l-0.6,-1.3z" fill="#1c1c1c"/>
<path d="M491.2,352.5h2.5v1.5l-0.6,1.3h-1.2l-0.6,-1.3z" fill="#1c1c1c"/>
<g transform="translate(505.6 341.5) rotate(180)"><ellipse cx="0" cy="0" rx="5.8" ry="8.2" fill="none" stroke="#666" stroke-width="0.7"/><path d="M2.4,-7.2L15,0.5L2.4,7.8M1.2,-4.8L12.2,0.5L1.2,5.8" fill="none" stroke="#666" stroke-width="0.7"/><path d="M12.8,-1.8L15.2,0.5L12.8,2.6Z" fill="#222"/><ellipse cx="-1.1" cy="0" rx="4.2" ry="4.0" fill="#111"/></g>
<path d="M478.4,360.2H530.4" stroke="#999" stroke-width="0.8" fill="none" />
<rect x="528.9" y="357.8" width="1.5" height="5.6" stroke="#111" stroke-width="0.6" fill="#111" />
<path d="M482.2,362.5A3.0,3.0 0 0 0 482.2,368.5Z" fill="#111"/>
<path d="M479.4,369.6Q479.4,368.6 480.6,368.5L495.6,367.8Q499,371 498.6,376Q498.8,381 495.8,384.2L480.6,383.8Q479.4,383.7 479.4,382.6" stroke="#666" stroke-width="0.95" fill="none" />
<rect x="488.2" y="373.5" width="3.6" height="5.0" stroke="#888" stroke-width="0.6" fill="none" />
<path d="M502.2,374.8h2.6v1.6l-0.7,1.3h-1.3l-0.7,-1.3z" fill="#1c1c1c"/>
<path d="M505.4,374.8h2.6v1.6l-0.7,1.3h-1.3l-0.7,-1.3z" fill="#1c1c1c"/>
<path d="M478.4,390.6L497.5,390.6" stroke="#aaa" stroke-width="0.8" fill="none" stroke-dasharray="5 2.2"/>
<path d="M521.0,390.6L530.0,390.6" stroke="#aaa" stroke-width="0.8" fill="none" stroke-dasharray="5 2.2"/>
<path d="M488.7,405.8h2.6v1.6l-0.7,1.3h-1.3l-0.7,-1.3z" fill="#1c1c1c"/>
<path d="M491.9,405.8h2.6v1.6l-0.7,1.3h-1.3l-0.7,-1.3z" fill="#1c1c1c"/>
<path d="M495.1,405.8h2.6v1.6l-0.7,1.3h-1.3l-0.7,-1.3z" fill="#1c1c1c"/>
<circle cx="513.5" cy="407.0" r="3.2" stroke="#777" stroke-width="0.8" fill="none"/>
<path d="M514.8,405.8a1.6,1.6 0 1 0 0,2.4" stroke="#888" stroke-width="0.6" fill="none" />
<path d="M516.7,407H527.2M528.2,401V413" stroke="#888" stroke-width="0.9" fill="none" />
<rect x="479.4" y="416.0" width="5.6" height="5.2" stroke="#bbb" stroke-width="0.7" fill="none" />
<circle cx="482.2" cy="418.6" r="1.3" stroke="#999" stroke-width="0.5" fill="none"/>
<path d="M511.0,422.3L530.0,422.3" stroke="#a4a4a4" stroke-width="0.85" fill="none" stroke-dasharray="5.5 2.2"/>
<rect x="456.6" y="315.3" width="12.6" height="24.7" stroke="#9a9a9a" stroke-width="0.85" fill="none" stroke-dasharray="5 0.8"/>
<path d="M457.6,316.3L468.2,339.0" stroke="#b4b4b4" stroke-width="0.7" fill="none" stroke-dasharray="3 1.6"/>
<path d="M457.6,339.0L468.2,316.3" stroke="#b4b4b4" stroke-width="0.7" fill="none" stroke-dasharray="3 1.6"/>
<path d="M460.1,322.2L465.7,333.1" stroke="#999" stroke-width="0.8" fill="none" />
<path d="M460.1,333.1L465.7,322.2" stroke="#999" stroke-width="0.8" fill="none" />
<rect x="456.6" y="340.0" width="12.6" height="25.5" stroke="#9a9a9a" stroke-width="0.85" fill="none" stroke-dasharray="5 0.8"/>
<path d="M457.6,341.0L468.2,364.5" stroke="#b4b4b4" stroke-width="0.7" fill="none" stroke-dasharray="3 1.6"/>
<path d="M457.6,364.5L468.2,341.0" stroke="#b4b4b4" stroke-width="0.7" fill="none" stroke-dasharray="3 1.6"/>
<path d="M460.1,347.1L465.7,358.4" stroke="#999" stroke-width="0.8" fill="none" />
<path d="M460.1,358.4L465.7,347.1" stroke="#999" stroke-width="0.8" fill="none" />
<rect x="456.6" y="365.5" width="12.6" height="25.1" stroke="#9a9a9a" stroke-width="0.85" fill="none" stroke-dasharray="5 0.8"/>
<path d="M457.6,366.5L468.2,389.6" stroke="#b4b4b4" stroke-width="0.7" fill="none" stroke-dasharray="3 1.6"/>
<path d="M457.6,389.6L468.2,366.5" stroke="#b4b4b4" stroke-width="0.7" fill="none" stroke-dasharray="3 1.6"/>
<path d="M460.1,372.5L465.7,383.6" stroke="#999" stroke-width="0.8" fill="none" />
<path d="M460.1,383.6L465.7,372.5" stroke="#999" stroke-width="0.8" fill="none" />
<path d="M465.3,346.3A3.1,3.3 0 0 1 465.3,352.9Z" fill="#111"/>
<path d="M465.3,352.5A3.1,3.3 0 0 1 465.3,359.1Z" fill="#111"/>
<path d="M455.4,352.7h9.8" stroke="#111" stroke-width="1.0" fill="none" />
<path d="M465.6,388.1A2.8,2.8 0 0 1 465.6,393.7Z" fill="#111"/>
<path d="M447.4,391.1H468.4M447.4,391.1V424" stroke="#bbb" stroke-width="0.8" fill="none" />
<path d="M468.3,391.1L468.3,424.0" stroke="#c4c4c4" stroke-width="0.7" fill="none" />
<path d="M447.4,411H468.4" stroke="#c4c4c4" stroke-width="0.8" fill="none" />
<path d="M447.4,391.6L439.2,409.8M442,411.2L446.9,422.5" stroke="#b2b2b2" stroke-width="1.7" fill="none" />
<path d="M454.6,403.6h2.6v1.6l-0.7,1.3h-1.3l-0.7,-1.3z" fill="#1c1c1c"/>
<path d="M457.8,403.6h2.6v1.6l-0.7,1.3h-1.3l-0.7,-1.3z" fill="#1c1c1c"/>
<path d="M446.9,427.4H469.6" stroke="#555" stroke-width="0.8" fill="none" />
<rect x="397.1" y="329.7" width="25.7" height="53.4" stroke="#aaa" stroke-width="0.8" fill="none" />
<path d="M395.0,337H389.5V351.5H395.0M391.7,337V351.5" stroke="#bbb" stroke-width="0.8" fill="none" stroke-dasharray="3.5 1.2"/>
<path d="M425.0,337H430.5V351.5H425.0M428.3,337V351.5" stroke="#bbb" stroke-width="0.8" fill="none" stroke-dasharray="3.5 1.2"/>
<path d="M403.5,337H398V351.5H403.5" stroke="#bbb" stroke-width="0.8" fill="none" />
<path d="M416.5,337H422V351.5H416.5" stroke="#bbb" stroke-width="0.8" fill="none" />
<path d="M395.0,361.5H389.5V376.0H395.0M391.7,361.5V376.0" stroke="#bbb" stroke-width="0.8" fill="none" stroke-dasharray="3.5 1.2"/>
<path d="M425.0,361.5H430.5V376.0H425.0M428.3,361.5V376.0" stroke="#bbb" stroke-width="0.8" fill="none" stroke-dasharray="3.5 1.2"/>
<path d="M403.5,361.5H398V376.0H403.5" stroke="#bbb" stroke-width="0.8" fill="none" />
<path d="M416.5,361.5H422V376.0H416.5" stroke="#bbb" stroke-width="0.8" fill="none" />
<path d="M404.9,353.8h2.6v1.6l-0.7,1.3h-1.3l-0.7,-1.3z" fill="#1c1c1c"/>
<path d="M408.1,353.8h2.6v1.6l-0.7,1.3h-1.3l-0.7,-1.3z" fill="#1c1c1c"/>
<rect x="393.6" y="429.6" width="12.0" height="22.4" stroke="#9a9a9a" stroke-width="0.85" fill="none" stroke-dasharray="5 0.8"/>
<path d="M394.6,430.6L404.6,451.0" stroke="#b4b4b4" stroke-width="0.7" fill="none" stroke-dasharray="3 1.6"/>
<path d="M394.6,451.0L404.6,430.6" stroke="#b4b4b4" stroke-width="0.7" fill="none" stroke-dasharray="3 1.6"/>
<path d="M397.0,435.9L402.2,445.7" stroke="#999" stroke-width="0.8" fill="none" />
<path d="M397.0,445.7L402.2,435.9" stroke="#999" stroke-width="0.8" fill="none" />
<rect x="393.6" y="452.0" width="12.0" height="22.8" stroke="#9a9a9a" stroke-width="0.85" fill="none" stroke-dasharray="5 0.8"/>
<path d="M394.6,453.0L404.6,473.8" stroke="#b4b4b4" stroke-width="0.7" fill="none" stroke-dasharray="3 1.6"/>
<path d="M394.6,473.8L404.6,453.0" stroke="#b4b4b4" stroke-width="0.7" fill="none" stroke-dasharray="3 1.6"/>
<path d="M397.0,458.4L402.2,468.4" stroke="#999" stroke-width="0.8" fill="none" />
<path d="M397.0,468.4L402.2,458.4" stroke="#999" stroke-width="0.8" fill="none" />
<rect x="393.6" y="474.8" width="12.0" height="17.8" stroke="#9a9a9a" stroke-width="0.85" fill="none" stroke-dasharray="5 0.8"/>
<path d="M394.6,475.8L404.6,491.6" stroke="#b4b4b4" stroke-width="0.7" fill="none" stroke-dasharray="3 1.6"/>
<path d="M394.6,491.6L404.6,475.8" stroke="#b4b4b4" stroke-width="0.7" fill="none" stroke-dasharray="3 1.6"/>
<path d="M397.0,479.8L402.2,487.6" stroke="#999" stroke-width="0.8" fill="none" />
<path d="M397.0,487.6L402.2,479.8" stroke="#999" stroke-width="0.8" fill="none" />
<path d="M404.6,429.0L404.6,474.6" stroke="#888" stroke-width="0.8" fill="none" />
<path d="M406.6,474.6V492.6" stroke="#999" stroke-width="0.8" fill="none" />
<path d="M393.5,449.8h2.6v1.6l-0.7,1.3h-1.3l-0.7,-1.3z" fill="#1c1c1c"/>
<path d="M396.7,449.8h2.6v1.6l-0.7,1.3h-1.3l-0.7,-1.3z" fill="#1c1c1c"/>
<path d="M400.2,453.4A2.8,2.9 0 0 1 400.2,459.2Z" fill="#111"/>
<path d="M411.4,440.2A3.0,3.1 0 0 0 411.4,446.4Z" fill="#111"/>
<path d="M411.4,446.6A3.0,3.1 0 0 0 411.4,452.8Z" fill="#111"/>
<path d="M411.4,453.1A3.0,3.1 0 0 0 411.4,459.3Z" fill="#111"/>
<path d="M412.3,444.6h2.4v1.4l-0.6,1.2h-1.2l-0.6,-1.2z" fill="#1c1c1c"/>
<path d="M415.3,444.6h2.4v1.4l-0.6,1.2h-1.2l-0.6,-1.2z" fill="#1c1c1c"/>
<path d="M412.3,449.9h2.4v1.4l-0.6,1.2h-1.2l-0.6,-1.2z" fill="#1c1c1c"/>
<path d="M415.3,449.9h2.4v1.4l-0.6,1.2h-1.2l-0.6,-1.2z" fill="#1c1c1c"/>
<path d="M409.9,427.1H420.9" stroke="#aaa" stroke-width="1.3" fill="none" />
<path d="M406.6,430.4L420.9,430.4" stroke="#bbb" stroke-width="0.7" fill="none" />
<path d="M420.9,430V471.2H480.5V430" stroke="#bbb" stroke-width="0.8" fill="none" />
<rect x="483.3" y="442.2" width="15.4" height="27.5" stroke="#999" stroke-width="0.8" fill="none" rx="1.5"/>
<rect x="484.8" y="443.8" width="12.4" height="24.4" stroke="#bbb" stroke-width="0.7" fill="none" rx="1.5"/>
<path d="M492,450l5,5M490,463.5h2.4M491.2,462.3v2.4" stroke="#333" stroke-width="0.7" fill="none" />
<path d="M496.9,449.4A3.1,3.3 0 0 1 496.9,456.0Z" fill="#111"/>
<path d="M496.9,455.7A3.1,3.3 0 0 1 496.9,462.3Z" fill="#111"/>
<path d="M497.5,433.8a1.6,1.6 0 1 0 1.5,1.9" stroke="#888" stroke-width="0.6" fill="none" />
<g transform="translate(473.6 455.3) rotate(0)"><ellipse cx="0" cy="0" rx="5.8" ry="8.2" fill="none" stroke="#666" stroke-width="0.7"/><path d="M2.4,-7.2L15,0.5L2.4,7.8M1.2,-4.8L12.2,0.5L1.2,5.8" fill="none" stroke="#666" stroke-width="0.7"/><path d="M12.8,-1.8L15.2,0.5L12.8,2.6Z" fill="#222"/><ellipse cx="-1.1" cy="0" rx="4.2" ry="4.0" fill="#111"/></g>
<rect x="433.1" y="474.0" width="30.0" height="16.3" stroke="#bbb" stroke-width="0.8" fill="none" />
<circle cx="442.1" cy="481.5" r="4.0" stroke="#888" stroke-width="0.8" fill="none"/>
<circle cx="442.1" cy="481.5" r="2.2" stroke="#999" stroke-width="0.7" fill="none"/>
<circle cx="442.1" cy="481.5" r="0.8" stroke="#999" stroke-width="0.5" fill="none"/>
<circle cx="455.2" cy="481.5" r="4.0" stroke="#888" stroke-width="0.8" fill="none"/>
<circle cx="455.2" cy="481.5" r="2.2" stroke="#999" stroke-width="0.7" fill="none"/>
<circle cx="455.2" cy="481.5" r="0.8" stroke="#999" stroke-width="0.5" fill="none"/>
<path d="M471.7,480.6h2.6v1.6l-0.7,1.3h-1.3l-0.7,-1.3z" fill="#1c1c1c"/>
<path d="M474.9,480.6h2.6v1.6l-0.7,1.3h-1.3l-0.7,-1.3z" fill="#1c1c1c"/>
<path d="M478.1,480.6h2.6v1.6l-0.7,1.3h-1.3l-0.7,-1.3z" fill="#1c1c1c"/>
<path d="M425.9,487.8A3.2,3.0 0 0 0 432.3,487.8Z" fill="#111"/>
<path d="M467.3,487.8A3.3,3.0 0 0 0 473.9,487.8Z" fill="#111"/>
<path d="M474.2,487.8A3.3,3.0 0 0 0 480.8,487.8Z" fill="#111"/>
<path d="M492,484.5h7.5v6.2h-7.5zM492,487h7.5M489,490.7h12" stroke="#555" stroke-width="0.7" fill="none" />
<path d="M494,489h0.8M497,489h0.8" stroke="#111" stroke-width="0.9" fill="none" />
<path d="M373.8,501.9L383.6,507.4H364.4Z" fill="#7a7a7a"/>
<path d="M367.2,509.2L380.6,509.2" stroke="#8a8a8a" stroke-width="1.0" fill="none" />
<path d="M367.2,511.2L380.6,511.2" stroke="#7a7a7a" stroke-width="1.0" fill="none" />
<path d="M367.2,514.9L380.6,514.9" stroke="#686868" stroke-width="2.2" fill="none" />
<path transform="translate(370.6 518) scale(0.33 0.38)" d="M4,1Q5,5 1,9.5M4.5,3Q6,7.5 9.5,9.5" fill="none" stroke="#777" stroke-width="2.2"/>
<path transform="translate(374 518.3) scale(0.30 0.34)" d="M5,0L5.5,1M2,2H8.5V5H2ZM2,5V7Q1.7,8.6 0.5,9.7" fill="none" stroke="#777" stroke-width="2.2"/>
<circle cx="373.7" cy="253.1" r="2.0" fill="#111"/>
<circle cx="373.7" cy="414.4" r="2.0" fill="#111"/>
<circle cx="431.8" cy="414.4" r="2.0" fill="#111"/>
<circle cx="431.8" cy="442.3" r="2.0" fill="#111"/>
<circle cx="581.5" cy="248.4" r="2.0" fill="#111"/>
<circle cx="643.3" cy="249.7" r="2.0" fill="#111"/>
<circle cx="643.3" cy="297.2" r="2.0" fill="#111"/>
<circle cx="677.9" cy="260.9" r="2.0" fill="#111"/>
<circle cx="516.9" cy="334.9" r="2.0" fill="#111"/>
<circle cx="556.8" cy="339.4" r="2.0" fill="#111"/>
<circle cx="643.3" cy="342.2" r="2.0" fill="#111"/>
<path d="M343.0,13.1L731.4,13.1" stroke="#8a8a8a" stroke-width="0.7" fill="none" />
<path d="M343.0,12.6L343.0,16.7" stroke="#aaa" stroke-width="0.6" fill="none" />
<path d="M341.6,14.3L344.4,11.9" stroke="#2a2a2a" stroke-width="1.05" fill="none" />
<path d="M731.4,12.6L731.4,16.7" stroke="#aaa" stroke-width="0.6" fill="none" />
<path d="M730.0,14.3L732.8,11.9" stroke="#2a2a2a" stroke-width="1.05" fill="none" />
<text x="537.6" y="12.5" font-size="4.8" fill="#8c8c8c" font-weight="normal" text-anchor="middle" >12925</text>
<path d="M343.0,27.5L731.4,27.5" stroke="#8a8a8a" stroke-width="0.7" fill="none" />
<path d="M343.0,27.0L343.0,31.1" stroke="#aaa" stroke-width="0.6" fill="none" />
<path d="M341.6,28.7L344.4,26.3" stroke="#2a2a2a" stroke-width="1.05" fill="none" />
<path d="M351.0,27.0L351.0,31.1" stroke="#aaa" stroke-width="0.6" fill="none" />
<path d="M349.6,28.7L352.4,26.3" stroke="#2a2a2a" stroke-width="1.05" fill="none" />
<path d="M488.7,27.0L488.7,31.1" stroke="#aaa" stroke-width="0.6" fill="none" />
<path d="M487.3,28.7L490.1,26.3" stroke="#2a2a2a" stroke-width="1.05" fill="none" />
<path d="M499.9,27.0L499.9,31.1" stroke="#aaa" stroke-width="0.6" fill="none" />
<path d="M498.5,28.7L501.3,26.3" stroke="#2a2a2a" stroke-width="1.05" fill="none" />
<path d="M598.4,27.0L598.4,31.1" stroke="#aaa" stroke-width="0.6" fill="none" />
<path d="M597.0,28.7L599.8,26.3" stroke="#2a2a2a" stroke-width="1.05" fill="none" />
<path d="M606.9,27.0L606.9,31.1" stroke="#aaa" stroke-width="0.6" fill="none" />
<path d="M605.5,28.7L608.3,26.3" stroke="#2a2a2a" stroke-width="1.05" fill="none" />
<path d="M723.0,27.0L723.0,31.1" stroke="#aaa" stroke-width="0.6" fill="none" />
<path d="M721.6,28.7L724.4,26.3" stroke="#2a2a2a" stroke-width="1.05" fill="none" />
<path d="M731.4,27.0L731.4,31.1" stroke="#aaa" stroke-width="0.6" fill="none" />
<path d="M730.0,28.7L732.8,26.3" stroke="#2a2a2a" stroke-width="1.05" fill="none" />
<text x="347.0" y="26.9" font-size="4.8" fill="#8c8c8c" font-weight="normal" text-anchor="middle" >217</text>
<text x="419.9" y="26.9" font-size="4.8" fill="#8c8c8c" font-weight="normal" text-anchor="middle" >3890</text>
<text x="494.3" y="26.9" font-size="4.8" fill="#8c8c8c" font-weight="normal" text-anchor="middle" >320</text>
<text x="549.1" y="26.9" font-size="4.8" fill="#8c8c8c" font-weight="normal" text-anchor="middle" >2764</text>
<text x="602.6" y="26.9" font-size="4.8" fill="#8c8c8c" font-weight="normal" text-anchor="middle" >241</text>
<text x="665.0" y="26.9" font-size="4.8" fill="#8c8c8c" font-weight="normal" text-anchor="middle" >3259</text>
<text x="727.2" y="26.9" font-size="4.8" fill="#8c8c8c" font-weight="normal" text-anchor="middle" >240</text>
<path d="M343.0,41.6L731.4,41.6" stroke="#8a8a8a" stroke-width="0.7" fill="none" />
<path d="M343.0,41.1L343.0,45.2" stroke="#aaa" stroke-width="0.6" fill="none" />
<path d="M341.6,42.8L344.4,40.4" stroke="#2a2a2a" stroke-width="1.05" fill="none" />
<path d="M351.0,41.1L351.0,45.2" stroke="#aaa" stroke-width="0.6" fill="none" />
<path d="M349.6,42.8L352.4,40.4" stroke="#2a2a2a" stroke-width="1.05" fill="none" />
<path d="M376.3,41.1L376.3,45.2" stroke="#aaa" stroke-width="0.6" fill="none" />
<path d="M374.9,42.8L377.7,40.4" stroke="#2a2a2a" stroke-width="1.05" fill="none" />
<path d="M477.5,41.1L477.5,45.2" stroke="#aaa" stroke-width="0.6" fill="none" />
<path d="M476.1,42.8L478.9,40.4" stroke="#2a2a2a" stroke-width="1.05" fill="none" />
<path d="M488.7,41.1L488.7,45.2" stroke="#aaa" stroke-width="0.6" fill="none" />
<path d="M487.3,42.8L490.1,40.4" stroke="#2a2a2a" stroke-width="1.05" fill="none" />
<path d="M499.9,41.1L499.9,45.2" stroke="#aaa" stroke-width="0.6" fill="none" />
<path d="M498.5,42.8L501.3,40.4" stroke="#2a2a2a" stroke-width="1.05" fill="none" />
<path d="M524.0,41.1L524.0,45.2" stroke="#aaa" stroke-width="0.6" fill="none" />
<path d="M522.6,42.8L525.4,40.4" stroke="#2a2a2a" stroke-width="1.05" fill="none" />
<path d="M584.7,41.1L584.7,45.2" stroke="#aaa" stroke-width="0.6" fill="none" />
<path d="M583.3,42.8L586.1,40.4" stroke="#2a2a2a" stroke-width="1.05" fill="none" />
<path d="M598.4,41.1L598.4,45.2" stroke="#aaa" stroke-width="0.6" fill="none" />
<path d="M597.0,42.8L599.8,40.4" stroke="#2a2a2a" stroke-width="1.05" fill="none" />
<path d="M606.9,41.1L606.9,45.2" stroke="#aaa" stroke-width="0.6" fill="none" />
<path d="M605.5,42.8L608.3,40.4" stroke="#2a2a2a" stroke-width="1.05" fill="none" />
<path d="M620.6,41.1L620.6,45.2" stroke="#aaa" stroke-width="0.6" fill="none" />
<path d="M619.2,42.8L622.0,40.4" stroke="#2a2a2a" stroke-width="1.05" fill="none" />
<path d="M701.2,41.1L701.2,45.2" stroke="#aaa" stroke-width="0.6" fill="none" />
<path d="M699.8,42.8L702.6,40.4" stroke="#2a2a2a" stroke-width="1.05" fill="none" />
<path d="M723.0,41.1L723.0,45.2" stroke="#aaa" stroke-width="0.6" fill="none" />
<path d="M721.6,42.8L724.4,40.4" stroke="#2a2a2a" stroke-width="1.05" fill="none" />
<path d="M731.4,41.1L731.4,45.2" stroke="#aaa" stroke-width="0.6" fill="none" />
<path d="M730.0,42.8L732.8,40.4" stroke="#2a2a2a" stroke-width="1.05" fill="none" />
<text x="347.0" y="41.0" font-size="4.8" fill="#8c8c8c" font-weight="normal" text-anchor="middle" >217</text>
<text x="363.6" y="41.0" font-size="4.8" fill="#8c8c8c" font-weight="normal" text-anchor="middle" >720</text>
<text x="426.9" y="41.0" font-size="4.8" fill="#8c8c8c" font-weight="normal" text-anchor="middle" >2845</text>
<text x="483.1" y="41.0" font-size="4.8" fill="#8c8c8c" font-weight="normal" text-anchor="middle" >320</text>
<text x="494.3" y="41.0" font-size="4.8" fill="#8c8c8c" font-weight="normal" text-anchor="middle" >320</text>
<text x="511.9" y="41.0" font-size="4.8" fill="#8c8c8c" font-weight="normal" text-anchor="middle" >680</text>
<text x="554.4" y="41.0" font-size="4.8" fill="#8c8c8c" font-weight="normal" text-anchor="middle" >1699</text>
<text x="591.5" y="41.0" font-size="4.8" fill="#8c8c8c" font-weight="normal" text-anchor="middle" >385</text>
<text x="602.6" y="41.0" font-size="4.8" fill="#8c8c8c" font-weight="normal" text-anchor="middle" >241</text>
<text x="613.8" y="41.0" font-size="4.8" fill="#8c8c8c" font-weight="normal" text-anchor="middle" >389</text>
<text x="660.9" y="41.0" font-size="4.8" fill="#8c8c8c" font-weight="normal" text-anchor="middle" >2272</text>
<text x="712.1" y="41.0" font-size="4.8" fill="#8c8c8c" font-weight="normal" text-anchor="middle" >600</text>
<text x="727.2" y="41.0" font-size="4.8" fill="#8c8c8c" font-weight="normal" text-anchor="middle" >240</text>
<path d="M342.9,529.8L623.5,529.8" stroke="#8a8a8a" stroke-width="0.7" fill="none" />
<path d="M342.9,526.2L342.9,530.3" stroke="#aaa" stroke-width="0.6" fill="none" />
<path d="M341.5,531.0L344.3,528.6" stroke="#2a2a2a" stroke-width="1.05" fill="none" />
<path d="M351.6,526.2L351.6,530.3" stroke="#aaa" stroke-width="0.6" fill="none" />
<path d="M350.2,531.0L353.0,528.6" stroke="#2a2a2a" stroke-width="1.05" fill="none" />
<path d="M354.6,526.2L354.6,530.3" stroke="#aaa" stroke-width="0.6" fill="none" />
<path d="M353.2,531.0L356.0,528.6" stroke="#2a2a2a" stroke-width="1.05" fill="none" />
<path d="M393.0,526.2L393.0,530.3" stroke="#aaa" stroke-width="0.6" fill="none" />
<path d="M391.6,531.0L394.4,528.6" stroke="#2a2a2a" stroke-width="1.05" fill="none" />
<path d="M406.9,526.2L406.9,530.3" stroke="#aaa" stroke-width="0.6" fill="none" />
<path d="M405.5,531.0L408.3,528.6" stroke="#2a2a2a" stroke-width="1.05" fill="none" />
<path d="M411.7,526.2L411.7,530.3" stroke="#aaa" stroke-width="0.6" fill="none" />
<path d="M410.3,531.0L413.1,528.6" stroke="#2a2a2a" stroke-width="1.05" fill="none" />
<path d="M424.4,526.2L424.4,530.3" stroke="#aaa" stroke-width="0.6" fill="none" />
<path d="M423.0,531.0L425.8,528.6" stroke="#2a2a2a" stroke-width="1.05" fill="none" />
<path d="M501.7,526.2L501.7,530.3" stroke="#aaa" stroke-width="0.6" fill="none" />
<path d="M500.3,531.0L503.1,528.6" stroke="#2a2a2a" stroke-width="1.05" fill="none" />
<path d="M509.9,526.2L509.9,530.3" stroke="#aaa" stroke-width="0.6" fill="none" />
<path d="M508.5,531.0L511.3,528.6" stroke="#2a2a2a" stroke-width="1.05" fill="none" />
<path d="M514.2,526.2L514.2,530.3" stroke="#aaa" stroke-width="0.6" fill="none" />
<path d="M512.8,531.0L515.6,528.6" stroke="#2a2a2a" stroke-width="1.05" fill="none" />
<path d="M529.5,526.2L529.5,530.3" stroke="#aaa" stroke-width="0.6" fill="none" />
<path d="M528.1,531.0L530.9,528.6" stroke="#2a2a2a" stroke-width="1.05" fill="none" />
<path d="M537.4,526.2L537.4,530.3" stroke="#aaa" stroke-width="0.6" fill="none" />
<path d="M536.0,531.0L538.8,528.6" stroke="#2a2a2a" stroke-width="1.05" fill="none" />
<path d="M551.1,526.2L551.1,530.3" stroke="#aaa" stroke-width="0.6" fill="none" />
<path d="M549.7,531.0L552.5,528.6" stroke="#2a2a2a" stroke-width="1.05" fill="none" />
<path d="M603.9,526.2L603.9,530.3" stroke="#aaa" stroke-width="0.6" fill="none" />
<path d="M602.5,531.0L605.3,528.6" stroke="#2a2a2a" stroke-width="1.05" fill="none" />
<path d="M618.0,526.2L618.0,530.3" stroke="#aaa" stroke-width="0.6" fill="none" />
<path d="M616.6,531.0L619.4,528.6" stroke="#2a2a2a" stroke-width="1.05" fill="none" />
<path d="M623.5,526.2L623.5,530.3" stroke="#aaa" stroke-width="0.6" fill="none" />
<path d="M622.1,531.0L624.9,528.6" stroke="#2a2a2a" stroke-width="1.05" fill="none" />
<text x="347.2" y="529.2" font-size="4.8" fill="#8c8c8c" font-weight="normal" text-anchor="middle" >240</text>
<text x="373.8" y="529.2" font-size="4.8" fill="#8c8c8c" font-weight="normal" text-anchor="middle" >1069</text>
<text x="399.9" y="529.2" font-size="4.8" fill="#8c8c8c" font-weight="normal" text-anchor="middle" >405</text>
<text x="409.3" y="529.2" font-size="4.8" fill="#8c8c8c" font-weight="normal" text-anchor="middle" >200</text>
<text x="418.0" y="529.2" font-size="4.8" fill="#8c8c8c" font-weight="normal" text-anchor="middle" >350</text>
<text x="463.0" y="529.2" font-size="4.8" fill="#8c8c8c" font-weight="normal" text-anchor="middle" >2130</text>
<text x="505.8" y="529.2" font-size="4.8" fill="#8c8c8c" font-weight="normal" text-anchor="middle" >240</text>
<text x="521.9" y="529.2" font-size="4.8" fill="#8c8c8c" font-weight="normal" text-anchor="middle" >422</text>
<text x="533.5" y="529.2" font-size="4.8" fill="#8c8c8c" font-weight="normal" text-anchor="middle" >185</text>
<text x="544.2" y="529.2" font-size="4.8" fill="#8c8c8c" font-weight="normal" text-anchor="middle" >230</text>
<text x="577.5" y="529.2" font-size="4.8" fill="#8c8c8c" font-weight="normal" text-anchor="middle" >1470</text>
<text x="611.0" y="529.2" font-size="4.8" fill="#8c8c8c" font-weight="normal" text-anchor="middle" >200</text>
<text x="620.8" y="529.2" font-size="4.8" fill="#8c8c8c" font-weight="normal" text-anchor="middle" >113</text>
<path d="M646.3,529.8L731.4,529.8" stroke="#8a8a8a" stroke-width="0.7" fill="none" />
<path d="M646.3,526.2L646.3,530.3" stroke="#aaa" stroke-width="0.6" fill="none" />
<path d="M644.9,531.0L647.7,528.6" stroke="#2a2a2a" stroke-width="1.05" fill="none" />
<path d="M698.6,526.2L698.6,530.3" stroke="#aaa" stroke-width="0.6" fill="none" />
<path d="M697.2,531.0L700.0,528.6" stroke="#2a2a2a" stroke-width="1.05" fill="none" />
<path d="M722.6,526.2L722.6,530.3" stroke="#aaa" stroke-width="0.6" fill="none" />
<path d="M721.2,531.0L724.0,528.6" stroke="#2a2a2a" stroke-width="1.05" fill="none" />
<path d="M731.4,526.2L731.4,530.3" stroke="#aaa" stroke-width="0.6" fill="none" />
<path d="M730.0,531.0L732.8,528.6" stroke="#2a2a2a" stroke-width="1.05" fill="none" />
<text x="672.5" y="529.2" font-size="4.8" fill="#8c8c8c" font-weight="normal" text-anchor="middle" >1470</text>
<text x="710.6" y="529.2" font-size="4.8" fill="#8c8c8c" font-weight="normal" text-anchor="middle" >669</text>
<text x="727.0" y="529.2" font-size="4.8" fill="#8c8c8c" font-weight="normal" text-anchor="middle" >240</text>
<path d="M614.5,531.4L637.2,531.4" stroke="#8a8a8a" stroke-width="0.7" fill="none" />
<path d="M614.5,527.8L614.5,531.9" stroke="#aaa" stroke-width="0.6" fill="none" />
<path d="M613.1,532.6L615.9,530.2" stroke="#2a2a2a" stroke-width="1.05" fill="none" />
<path d="M637.2,527.8L637.2,531.9" stroke="#aaa" stroke-width="0.6" fill="none" />
<path d="M635.8,532.6L638.6,530.2" stroke="#2a2a2a" stroke-width="1.05" fill="none" />
<text x="627.0" y="531.0" font-size="4.4" fill="#8c8c8c" font-weight="normal" text-anchor="middle" >643</text>
<path d="M342.9,544.0L731.4,544.0" stroke="#8a8a8a" stroke-width="0.7" fill="none" />
<path d="M342.9,540.4L342.9,544.5" stroke="#aaa" stroke-width="0.6" fill="none" />
<path d="M341.5,545.2L344.3,542.8" stroke="#2a2a2a" stroke-width="1.05" fill="none" />
<path d="M351.4,540.4L351.4,544.5" stroke="#aaa" stroke-width="0.6" fill="none" />
<path d="M350.0,545.2L352.8,542.8" stroke="#2a2a2a" stroke-width="1.05" fill="none" />
<path d="M406.9,540.4L406.9,544.5" stroke="#aaa" stroke-width="0.6" fill="none" />
<path d="M405.5,545.2L408.3,542.8" stroke="#2a2a2a" stroke-width="1.05" fill="none" />
<path d="M411.7,540.4L411.7,544.5" stroke="#aaa" stroke-width="0.6" fill="none" />
<path d="M410.3,545.2L413.1,542.8" stroke="#2a2a2a" stroke-width="1.05" fill="none" />
<path d="M501.7,540.4L501.7,544.5" stroke="#aaa" stroke-width="0.6" fill="none" />
<path d="M500.3,545.2L503.1,542.8" stroke="#2a2a2a" stroke-width="1.05" fill="none" />
<path d="M510.9,540.4L510.9,544.5" stroke="#aaa" stroke-width="0.6" fill="none" />
<path d="M509.5,545.2L512.3,542.8" stroke="#2a2a2a" stroke-width="1.05" fill="none" />
<path d="M529.5,540.4L529.5,544.5" stroke="#aaa" stroke-width="0.6" fill="none" />
<path d="M528.1,545.2L530.9,542.8" stroke="#2a2a2a" stroke-width="1.05" fill="none" />
<path d="M537.4,540.4L537.4,544.5" stroke="#aaa" stroke-width="0.6" fill="none" />
<path d="M536.0,545.2L538.8,542.8" stroke="#2a2a2a" stroke-width="1.05" fill="none" />
<path d="M618.0,540.4L618.0,544.5" stroke="#aaa" stroke-width="0.6" fill="none" />
<path d="M616.6,545.2L619.4,542.8" stroke="#2a2a2a" stroke-width="1.05" fill="none" />
<path d="M623.5,540.4L623.5,544.5" stroke="#aaa" stroke-width="0.6" fill="none" />
<path d="M622.1,545.2L624.9,542.8" stroke="#2a2a2a" stroke-width="1.05" fill="none" />
<path d="M722.6,540.4L722.6,544.5" stroke="#aaa" stroke-width="0.6" fill="none" />
<path d="M721.2,545.2L724.0,542.8" stroke="#2a2a2a" stroke-width="1.05" fill="none" />
<path d="M731.4,540.4L731.4,544.5" stroke="#aaa" stroke-width="0.6" fill="none" />
<path d="M730.0,545.2L732.8,542.8" stroke="#2a2a2a" stroke-width="1.05" fill="none" />
<text x="347.1" y="543.4" font-size="4.8" fill="#8c8c8c" font-weight="normal" text-anchor="middle" >240</text>
<text x="379.1" y="543.4" font-size="4.8" fill="#8c8c8c" font-weight="normal" text-anchor="middle" >1564</text>
<text x="409.3" y="543.4" font-size="4.8" fill="#8c8c8c" font-weight="normal" text-anchor="middle" >240</text>
<text x="456.7" y="543.4" font-size="4.8" fill="#8c8c8c" font-weight="normal" text-anchor="middle" >2540</text>
<text x="506.3" y="543.4" font-size="4.8" fill="#8c8c8c" font-weight="normal" text-anchor="middle" >240</text>
<text x="520.2" y="543.4" font-size="4.8" fill="#8c8c8c" font-weight="normal" text-anchor="middle" >562</text>
<text x="533.5" y="543.4" font-size="4.8" fill="#8c8c8c" font-weight="normal" text-anchor="middle" >200</text>
<text x="577.7" y="543.4" font-size="4.8" fill="#8c8c8c" font-weight="normal" text-anchor="middle" >2066</text>
<text x="620.8" y="543.4" font-size="4.8" fill="#8c8c8c" font-weight="normal" text-anchor="middle" >113</text>
<text x="673.0" y="543.4" font-size="4.8" fill="#8c8c8c" font-weight="normal" text-anchor="middle" >2780</text>
<text x="727.0" y="543.4" font-size="4.8" fill="#8c8c8c" font-weight="normal" text-anchor="middle" >240</text>
<path d="M342.7,558.0L731.4,558.0" stroke="#8a8a8a" stroke-width="0.7" fill="none" />
<path d="M342.7,554.4L342.7,558.5" stroke="#aaa" stroke-width="0.6" fill="none" />
<path d="M341.3,559.2L344.1,556.8" stroke="#2a2a2a" stroke-width="1.05" fill="none" />
<path d="M731.4,554.4L731.4,558.5" stroke="#aaa" stroke-width="0.6" fill="none" />
<path d="M730.0,559.2L732.8,556.8" stroke="#2a2a2a" stroke-width="1.05" fill="none" />
<text x="536.5" y="557.4" font-size="4.8" fill="#8c8c8c" font-weight="normal" text-anchor="middle" >12925</text>
<path d="M315.1,70.1L315.1,501.5" stroke="#8a8a8a" stroke-width="0.7" fill="none" />
<path d="M314.6,70.1L318.7,70.1" stroke="#aaa" stroke-width="0.6" fill="none" />
<path d="M313.9,71.5L316.3,68.7" stroke="#2a2a2a" stroke-width="1.05" fill="none" />
<path d="M314.6,78.4L318.7,78.4" stroke="#aaa" stroke-width="0.6" fill="none" />
<path d="M313.9,79.8L316.3,77.0" stroke="#2a2a2a" stroke-width="1.05" fill="none" />
<path d="M314.6,106.6L318.7,106.6" stroke="#aaa" stroke-width="0.6" fill="none" />
<path d="M313.9,108.0L316.3,105.2" stroke="#2a2a2a" stroke-width="1.05" fill="none" />
<path d="M314.6,130.2L318.7,130.2" stroke="#aaa" stroke-width="0.6" fill="none" />
<path d="M313.9,131.6L316.3,128.8" stroke="#2a2a2a" stroke-width="1.05" fill="none" />
<path d="M314.6,141.3L318.7,141.3" stroke="#aaa" stroke-width="0.6" fill="none" />
<path d="M313.9,142.7L316.3,139.9" stroke="#2a2a2a" stroke-width="1.05" fill="none" />
<path d="M314.6,421.6L318.7,421.6" stroke="#aaa" stroke-width="0.6" fill="none" />
<path d="M313.9,423.0L316.3,420.2" stroke="#2a2a2a" stroke-width="1.05" fill="none" />
<path d="M314.6,492.5L318.7,492.5" stroke="#aaa" stroke-width="0.6" fill="none" />
<path d="M313.9,493.9L316.3,491.1" stroke="#2a2a2a" stroke-width="1.05" fill="none" />
<path d="M314.6,501.5L318.7,501.5" stroke="#aaa" stroke-width="0.6" fill="none" />
<path d="M313.9,502.9L316.3,500.1" stroke="#2a2a2a" stroke-width="1.05" fill="none" />
<text x="313.8" y="74.2" font-size="4.8" fill="#8c8c8c" font-weight="normal" text-anchor="middle" transform="rotate(-90 313.8 74.2)" >240</text>
<text x="313.8" y="93.0" font-size="4.8" fill="#8c8c8c" font-weight="normal" text-anchor="middle" transform="rotate(-90 313.8 93.0)" >753</text>
<text x="313.8" y="118.5" font-size="4.8" fill="#8c8c8c" font-weight="normal" text-anchor="middle" transform="rotate(-90 313.8 118.5)" >661</text>
<text x="313.8" y="135.8" font-size="4.8" fill="#8c8c8c" font-weight="normal" text-anchor="middle" transform="rotate(-90 313.8 135.8)" >385</text>
<text x="313.8" y="281.0" font-size="4.8" fill="#8c8c8c" font-weight="normal" text-anchor="middle" transform="rotate(-90 313.8 281.0)" >7961</text>
<text x="313.8" y="457.3" font-size="4.8" fill="#8c8c8c" font-weight="normal" text-anchor="middle" transform="rotate(-90 313.8 457.3)" >2175</text>
<text x="313.8" y="497.0" font-size="4.8" fill="#8c8c8c" font-weight="normal" text-anchor="middle" transform="rotate(-90 313.8 497.0)" >240</text>
<path d="M300.7,70.1L300.7,501.5" stroke="#8a8a8a" stroke-width="0.7" fill="none" />
<path d="M300.2,70.1L304.3,70.1" stroke="#aaa" stroke-width="0.6" fill="none" />
<path d="M299.5,71.5L301.9,68.7" stroke="#2a2a2a" stroke-width="1.05" fill="none" />
<path d="M300.2,78.4L304.3,78.4" stroke="#aaa" stroke-width="0.6" fill="none" />
<path d="M299.5,79.8L301.9,77.0" stroke="#2a2a2a" stroke-width="1.05" fill="none" />
<path d="M300.2,130.2L304.3,130.2" stroke="#aaa" stroke-width="0.6" fill="none" />
<path d="M299.5,131.6L301.9,128.8" stroke="#2a2a2a" stroke-width="1.05" fill="none" />
<path d="M300.2,141.3L304.3,141.3" stroke="#aaa" stroke-width="0.6" fill="none" />
<path d="M299.5,142.7L301.9,139.9" stroke="#2a2a2a" stroke-width="1.05" fill="none" />
<path d="M300.2,492.5L304.3,492.5" stroke="#aaa" stroke-width="0.6" fill="none" />
<path d="M299.5,493.9L301.9,491.1" stroke="#2a2a2a" stroke-width="1.05" fill="none" />
<path d="M300.2,501.5L304.3,501.5" stroke="#aaa" stroke-width="0.6" fill="none" />
<path d="M299.5,502.9L301.9,500.1" stroke="#2a2a2a" stroke-width="1.05" fill="none" />
<text x="299.4" y="74.2" font-size="4.8" fill="#8c8c8c" font-weight="normal" text-anchor="middle" transform="rotate(-90 299.4 74.2)" >240</text>
<text x="299.4" y="104.5" font-size="4.8" fill="#8c8c8c" font-weight="normal" text-anchor="middle" transform="rotate(-90 299.4 104.5)" >1493</text>
<text x="299.4" y="135.8" font-size="4.8" fill="#8c8c8c" font-weight="normal" text-anchor="middle" transform="rotate(-90 299.4 135.8)" >385</text>
<text x="299.4" y="317.8" font-size="4.8" fill="#8c8c8c" font-weight="normal" text-anchor="middle" transform="rotate(-90 299.4 317.8)" >9886</text>
<text x="299.4" y="497.0" font-size="4.8" fill="#8c8c8c" font-weight="normal" text-anchor="middle" transform="rotate(-90 299.4 497.0)" >240</text>
<path d="M286.5,70.1L286.5,501.5" stroke="#8a8a8a" stroke-width="0.7" fill="none" />
<path d="M286.0,70.1L290.1,70.1" stroke="#aaa" stroke-width="0.6" fill="none" />
<path d="M285.3,71.5L287.7,68.7" stroke="#2a2a2a" stroke-width="1.05" fill="none" />
<path d="M286.0,501.5L290.1,501.5" stroke="#aaa" stroke-width="0.6" fill="none" />
<path d="M285.3,502.9L287.7,500.1" stroke="#2a2a2a" stroke-width="1.05" fill="none" />
<text x="285.2" y="284.5" font-size="4.8" fill="#8c8c8c" font-weight="normal" text-anchor="middle" transform="rotate(-90 285.2 284.5)" >12029</text>
<path d="M759.6,70.1L759.6,501.8" stroke="#8a8a8a" stroke-width="0.7" fill="none" />
<path d="M756.0,70.1L760.1,70.1" stroke="#aaa" stroke-width="0.6" fill="none" />
<path d="M758.4,71.5L760.8,68.7" stroke="#2a2a2a" stroke-width="1.05" fill="none" />
<path d="M756.0,78.4L760.1,78.4" stroke="#aaa" stroke-width="0.6" fill="none" />
<path d="M758.4,79.8L760.8,77.0" stroke="#2a2a2a" stroke-width="1.05" fill="none" />
<path d="M756.0,92.3L760.1,92.3" stroke="#aaa" stroke-width="0.6" fill="none" />
<path d="M758.4,93.7L760.8,90.9" stroke="#2a2a2a" stroke-width="1.05" fill="none" />
<path d="M756.0,99.8L760.1,99.8" stroke="#aaa" stroke-width="0.6" fill="none" />
<path d="M758.4,101.2L760.8,98.4" stroke="#2a2a2a" stroke-width="1.05" fill="none" />
<path d="M756.0,229.8L760.1,229.8" stroke="#aaa" stroke-width="0.6" fill="none" />
<path d="M758.4,231.2L760.8,228.4" stroke="#2a2a2a" stroke-width="1.05" fill="none" />
<path d="M756.0,236.7L760.1,236.7" stroke="#aaa" stroke-width="0.6" fill="none" />
<path d="M758.4,238.1L760.8,235.3" stroke="#2a2a2a" stroke-width="1.05" fill="none" />
<path d="M756.0,273.1L760.1,273.1" stroke="#aaa" stroke-width="0.6" fill="none" />
<path d="M758.4,274.5L760.8,271.7" stroke="#2a2a2a" stroke-width="1.05" fill="none" />
<path d="M756.0,300.2L760.1,300.2" stroke="#aaa" stroke-width="0.6" fill="none" />
<path d="M758.4,301.6L760.8,298.8" stroke="#2a2a2a" stroke-width="1.05" fill="none" />
<path d="M756.0,315.8L760.1,315.8" stroke="#aaa" stroke-width="0.6" fill="none" />
<path d="M758.4,317.2L760.8,314.4" stroke="#2a2a2a" stroke-width="1.05" fill="none" />
<path d="M756.0,322.1L760.1,322.1" stroke="#aaa" stroke-width="0.6" fill="none" />
<path d="M758.4,323.5L760.8,320.7" stroke="#2a2a2a" stroke-width="1.05" fill="none" />
<path d="M756.0,432.2L760.1,432.2" stroke="#aaa" stroke-width="0.6" fill="none" />
<path d="M758.4,433.6L760.8,430.8" stroke="#2a2a2a" stroke-width="1.05" fill="none" />
<path d="M756.0,440.9L760.1,440.9" stroke="#aaa" stroke-width="0.6" fill="none" />
<path d="M758.4,442.3L760.8,439.5" stroke="#2a2a2a" stroke-width="1.05" fill="none" />
<path d="M756.0,454.4L760.1,454.4" stroke="#aaa" stroke-width="0.6" fill="none" />
<path d="M758.4,455.8L760.8,453.0" stroke="#2a2a2a" stroke-width="1.05" fill="none" />
<path d="M756.0,481.5L760.1,481.5" stroke="#aaa" stroke-width="0.6" fill="none" />
<path d="M758.4,482.9L760.8,480.1" stroke="#2a2a2a" stroke-width="1.05" fill="none" />
<path d="M756.0,491.8L760.1,491.8" stroke="#aaa" stroke-width="0.6" fill="none" />
<path d="M758.4,493.2L760.8,490.4" stroke="#2a2a2a" stroke-width="1.05" fill="none" />
<path d="M756.0,501.8L760.1,501.8" stroke="#aaa" stroke-width="0.6" fill="none" />
<path d="M758.4,503.2L760.8,500.4" stroke="#2a2a2a" stroke-width="1.05" fill="none" />
<text x="758.3" y="74.2" font-size="4.8" fill="#8c8c8c" font-weight="normal" text-anchor="middle" transform="rotate(-90 758.3 74.2)" >240</text>
<text x="758.3" y="85.3" font-size="4.8" fill="#8c8c8c" font-weight="normal" text-anchor="middle" transform="rotate(-90 758.3 85.3)" >378</text>
<text x="758.3" y="96.0" font-size="4.8" fill="#8c8c8c" font-weight="normal" text-anchor="middle" transform="rotate(-90 758.3 96.0)" >233</text>
<text x="758.3" y="165.0" font-size="4.8" fill="#8c8c8c" font-weight="normal" text-anchor="middle" transform="rotate(-90 758.3 165.0)" >3670</text>
<text x="758.3" y="233.2" font-size="4.8" fill="#8c8c8c" font-weight="normal" text-anchor="middle" transform="rotate(-90 758.3 233.2)" >375</text>
<text x="758.3" y="252.0" font-size="4.8" fill="#8c8c8c" font-weight="normal" text-anchor="middle" transform="rotate(-90 758.3 252.0)" >1065</text>
<text x="758.3" y="286.5" font-size="4.8" fill="#8c8c8c" font-weight="normal" text-anchor="middle" transform="rotate(-90 758.3 286.5)" >778</text>
<text x="758.3" y="307.5" font-size="4.8" fill="#8c8c8c" font-weight="normal" text-anchor="middle" transform="rotate(-90 758.3 307.5)" >493</text>
<text x="758.3" y="319.0" font-size="4.8" fill="#8c8c8c" font-weight="normal" text-anchor="middle" transform="rotate(-90 758.3 319.0)" >233</text>
<text x="758.3" y="378.0" font-size="4.8" fill="#8c8c8c" font-weight="normal" text-anchor="middle" transform="rotate(-90 758.3 378.0)" >3080</text>
<text x="758.3" y="436.5" font-size="4.8" fill="#8c8c8c" font-weight="normal" text-anchor="middle" transform="rotate(-90 758.3 436.5)" >240</text>
<text x="758.3" y="448.0" font-size="4.8" fill="#8c8c8c" font-weight="normal" text-anchor="middle" transform="rotate(-90 758.3 448.0)" >384</text>
<text x="758.3" y="468.0" font-size="4.8" fill="#8c8c8c" font-weight="normal" text-anchor="middle" transform="rotate(-90 758.3 468.0)" >772</text>
<text x="758.3" y="486.8" font-size="4.8" fill="#8c8c8c" font-weight="normal" text-anchor="middle" transform="rotate(-90 758.3 486.8)" >307</text>
<text x="758.3" y="496.8" font-size="4.8" fill="#8c8c8c" font-weight="normal" text-anchor="middle" transform="rotate(-90 758.3 496.8)" >294</text>
<path d="M774.2,70.1L774.2,501.8" stroke="#8a8a8a" stroke-width="0.7" fill="none" />
<path d="M770.6,70.1L774.7,70.1" stroke="#aaa" stroke-width="0.6" fill="none" />
<path d="M773.0,71.5L775.4,68.7" stroke="#2a2a2a" stroke-width="1.05" fill="none" />
<path d="M770.6,78.4L774.7,78.4" stroke="#aaa" stroke-width="0.6" fill="none" />
<path d="M773.0,79.8L775.4,77.0" stroke="#2a2a2a" stroke-width="1.05" fill="none" />
<path d="M770.6,99.8L774.7,99.8" stroke="#aaa" stroke-width="0.6" fill="none" />
<path d="M773.0,101.2L775.4,98.4" stroke="#2a2a2a" stroke-width="1.05" fill="none" />
<path d="M770.6,229.8L774.7,229.8" stroke="#aaa" stroke-width="0.6" fill="none" />
<path d="M773.0,231.2L775.4,228.4" stroke="#2a2a2a" stroke-width="1.05" fill="none" />
<path d="M770.6,236.7L774.7,236.7" stroke="#aaa" stroke-width="0.6" fill="none" />
<path d="M773.0,238.1L775.4,235.3" stroke="#2a2a2a" stroke-width="1.05" fill="none" />
<path d="M770.6,315.8L774.7,315.8" stroke="#aaa" stroke-width="0.6" fill="none" />
<path d="M773.0,317.2L775.4,314.4" stroke="#2a2a2a" stroke-width="1.05" fill="none" />
<path d="M770.6,322.1L774.7,322.1" stroke="#aaa" stroke-width="0.6" fill="none" />
<path d="M773.0,323.5L775.4,320.7" stroke="#2a2a2a" stroke-width="1.05" fill="none" />
<path d="M770.6,432.2L774.7,432.2" stroke="#aaa" stroke-width="0.6" fill="none" />
<path d="M773.0,433.6L775.4,430.8" stroke="#2a2a2a" stroke-width="1.05" fill="none" />
<path d="M770.6,440.9L774.7,440.9" stroke="#aaa" stroke-width="0.6" fill="none" />
<path d="M773.0,442.3L775.4,439.5" stroke="#2a2a2a" stroke-width="1.05" fill="none" />
<path d="M770.6,491.8L774.7,491.8" stroke="#aaa" stroke-width="0.6" fill="none" />
<path d="M773.0,493.2L775.4,490.4" stroke="#2a2a2a" stroke-width="1.05" fill="none" />
<path d="M770.6,501.8L774.7,501.8" stroke="#aaa" stroke-width="0.6" fill="none" />
<path d="M773.0,503.2L775.4,500.4" stroke="#2a2a2a" stroke-width="1.05" fill="none" />
<text x="772.9" y="74.2" font-size="4.8" fill="#8c8c8c" font-weight="normal" text-anchor="middle" transform="rotate(-90 772.9 74.2)" >240</text>
<text x="772.9" y="89.0" font-size="4.8" fill="#8c8c8c" font-weight="normal" text-anchor="middle" transform="rotate(-90 772.9 89.0)" >619</text>
<text x="772.9" y="165.0" font-size="4.8" fill="#8c8c8c" font-weight="normal" text-anchor="middle" transform="rotate(-90 772.9 165.0)" >3670</text>
<text x="772.9" y="233.2" font-size="4.8" fill="#8c8c8c" font-weight="normal" text-anchor="middle" transform="rotate(-90 772.9 233.2)" >375</text>
<text x="772.9" y="276.0" font-size="4.8" fill="#8c8c8c" font-weight="normal" text-anchor="middle" transform="rotate(-90 772.9 276.0)" >2016</text>
<text x="772.9" y="319.0" font-size="4.8" fill="#8c8c8c" font-weight="normal" text-anchor="middle" transform="rotate(-90 772.9 319.0)" >233</text>
<text x="772.9" y="378.0" font-size="4.8" fill="#8c8c8c" font-weight="normal" text-anchor="middle" transform="rotate(-90 772.9 378.0)" >3080</text>
<text x="772.9" y="436.5" font-size="4.8" fill="#8c8c8c" font-weight="normal" text-anchor="middle" transform="rotate(-90 772.9 436.5)" >240</text>
<text x="772.9" y="466.0" font-size="4.8" fill="#8c8c8c" font-weight="normal" text-anchor="middle" transform="rotate(-90 772.9 466.0)" >1443</text>
<text x="772.9" y="496.8" font-size="4.8" fill="#8c8c8c" font-weight="normal" text-anchor="middle" transform="rotate(-90 772.9 496.8)" >295</text>
<path d="M787.9,70.1L787.9,501.8" stroke="#8a8a8a" stroke-width="0.7" fill="none" />
<path d="M784.3,70.1L788.4,70.1" stroke="#aaa" stroke-width="0.6" fill="none" />
<path d="M786.7,71.5L789.1,68.7" stroke="#2a2a2a" stroke-width="1.05" fill="none" />
<path d="M784.3,501.8L788.4,501.8" stroke="#aaa" stroke-width="0.6" fill="none" />
<path d="M786.7,503.2L789.1,500.4" stroke="#2a2a2a" stroke-width="1.05" fill="none" />
<text x="786.6" y="286.0" font-size="4.8" fill="#8c8c8c" font-weight="normal" text-anchor="middle" transform="rotate(-90 786.6 286.0)" >12029</text>
<path transform="translate(479.10 105.10) scale(0.550 0.660)" d="M1,0.5V10M1,1H3.6L2.3,3.2Q4,4.6 1.3,6.2M5.2,1H9V9H5.2ZM5.2,5H9" fill="none" stroke="#111" stroke-width="1.73" stroke-linecap="round" stroke-linejoin="round"/>
<path transform="translate(485.80 105.10) scale(0.550 0.660)" d="M5,0.4L2.4,3.9L8.6,3.3M7,1.8L8.8,4.3M2.6,5.6H7.6V9.6H2.6Z" fill="none" stroke="#111" stroke-width="1.73" stroke-linecap="round" stroke-linejoin="round"/>
<path transform="translate(551.30 155.60) scale(0.700 0.710)" d="M0.8,1.8L2,3M0.8,8.2L2.6,5.4M5.2,0.4L3.8,3.2M4.6,2.4H9.2L8.4,4M6.6,3V5.4Q6,7.6 3.4,9.7M6.6,5.4Q7.4,8 9.7,9.6" fill="none" stroke="#1a1a1a" stroke-width="1.57" stroke-linecap="round" stroke-linejoin="round"/>
<path transform="translate(558.90 155.60) scale(0.700 0.710)" d="M0.9,1V9.2M0.9,1H5.2M0.9,9.2H5.2M0.9,3.6H4.6V6.6H0.9M2.9,1V3.6M2.9,6.6V9.2M7.2,0.4V10M7.2,4L9.7,5.7" fill="none" stroke="#1a1a1a" stroke-width="1.57" stroke-linecap="round" stroke-linejoin="round"/>
<path transform="translate(566.50 155.60) scale(0.700 0.710)" d="M5,0V1.3M1,3.1V1.6H9V3.1M2.6,3.5H7.6M5.2,3.5L3,5.5L7.6,5.2M3,7.1H7.2M5,5.9V9.6M1.3,9.6H8.8" fill="none" stroke="#1a1a1a" stroke-width="1.57" stroke-linecap="round" stroke-linejoin="round"/>
<path transform="translate(635.30 189.70) scale(0.560 0.700)" d="M4.4,0L5.6,1.2M1.6,2.6H8.6M2.6,5.6H7.6M1,9.6H9.2M5,2.6V9.6" fill="none" stroke="#1a1a1a" stroke-width="1.96" stroke-linecap="round" stroke-linejoin="round"/>
<path transform="translate(641.35 189.70) scale(0.560 0.700)" d="M0.9,1V9.2M0.9,1H5.2M0.9,9.2H5.2M0.9,3.6H4.6V6.6H0.9M2.9,1V3.6M2.9,6.6V9.2M7.2,0.4V10M7.2,4L9.7,5.7" fill="none" stroke="#1a1a1a" stroke-width="1.96" stroke-linecap="round" stroke-linejoin="round"/>
<path transform="translate(647.40 189.70) scale(0.560 0.700)" d="M5,0V1.3M1,3.1V1.6H9V3.1M2.6,3.5H7.6M5.2,3.5L3,5.5L7.6,5.2M3,7.1H7.2M5,5.9V9.6M1.3,9.6H8.8" fill="none" stroke="#1a1a1a" stroke-width="1.96" stroke-linecap="round" stroke-linejoin="round"/>
<path transform="translate(421.40 251.90) scale(0.620 0.700)" d="M5,0V1.2M1,3V1.6H9V3M4.2,2.4L2,4.9M4,3.3H7L2,7M4.2,4.6L9.2,7.1M3,7.4H7.2V9.8H3Z" fill="none" stroke="#1a1a1a" stroke-width="1.77" stroke-linecap="round" stroke-linejoin="round"/>
<path transform="translate(431.10 251.90) scale(0.620 0.700)" d="M1.6,1H9.2M1.6,1V6Q1.5,8 0.5,9.7M3.6,3.6H9.6M6.6,3.6V9.6L5.3,9" fill="none" stroke="#1a1a1a" stroke-width="1.77" stroke-linecap="round" stroke-linejoin="round"/>
<path transform="translate(399.60 391.20) scale(0.600 0.710)" d="M1,0.9H4.2M2.2,0L1,3.3M1.6,2.1H4L2,3.9M5.6,0.8H8.6L5.6,3.9M6.1,1.6L9.1,3.9M5,4L1,6.5M5,4L9.2,6.5M3.1,6.3H7.1V8.3H3.1ZM3.1,7.3H7.1M3.1,8.3L2,10M5,8.3L8.6,10" fill="none" stroke="#1a1a1a" stroke-width="1.83" stroke-linecap="round" stroke-linejoin="round"/>
<path transform="translate(409.00 391.20) scale(0.600 0.710)" d="M1.6,1H9.2M1.6,1V6Q1.5,8 0.5,9.7M3.6,3.6H9.6M6.6,3.6V9.6L5.3,9" fill="none" stroke="#1a1a1a" stroke-width="1.83" stroke-linecap="round" stroke-linejoin="round"/>
<path transform="translate(439.70 443.70) scale(0.570 0.710)" d="M1.6,1H9.6M1.6,1V6Q1.5,8 0.5,9.7M2.8,2.8H6M3,4H5.8V6H3ZM3.3,6.8L3.8,8.3M5.6,6.8L5.1,8.3M2.5,9.1H6.3M6.6,4.6H9.9M8.6,2.6V9.6L7.5,9M7,6L7.5,7" fill="none" stroke="#1a1a1a" stroke-width="1.93" stroke-linecap="round" stroke-linejoin="round"/>
<path transform="translate(445.90 443.70) scale(0.570 0.710)" d="M5,0L5.5,1M2,1.6H8.6V3.8H2ZM2,3.8V7Q1.7,8.6 0.5,9.7M5.6,4.3L6.1,5.2M3.1,5.8H9.6M5.6,5.8Q5.4,8.4 3.1,9.9M5.4,7.3H8.6L8.3,9.5L7.1,9.3" fill="none" stroke="#1a1a1a" stroke-width="1.93" stroke-linecap="round" stroke-linejoin="round"/>
<path transform="translate(566.50 371.30) scale(0.570 0.700)" d="M1.6,2H7.1V4.6M1,4.6H9.1L8.8,8L7.6,7.5M4.6,0.3V9.9M7.6,0.5L8.6,1.5" fill="none" stroke="#1a1a1a" stroke-width="1.93" stroke-linecap="round" stroke-linejoin="round"/>
<path transform="translate(572.70 371.30) scale(0.570 0.700)" d="M5,0L5.5,1M2,1.6H8.6V3.8H2ZM2,3.8V7Q1.7,8.6 0.5,9.7M5.6,4.3L6.1,5.2M3.1,5.8H9.6M5.6,5.8Q5.4,8.4 3.1,9.9M5.4,7.3H8.6L8.3,9.5L7.1,9.3" fill="none" stroke="#1a1a1a" stroke-width="1.93" stroke-linecap="round" stroke-linejoin="round"/>
<path transform="translate(499.00 382.10) scale(0.560 0.690)" d="M1.6,1.5H7.6V5.5L6.4,5.2M4.1,1.5V9.3M0.8,9.3H9.4" fill="none" stroke="#1a1a1a" stroke-width="1.96" stroke-linecap="round" stroke-linejoin="round"/>
<path transform="translate(505.05 382.10) scale(0.560 0.690)" d="M2.6,0.5L1,4M2,2.8H8.6M5,0.3V9.5M2.6,6H7.6M0.8,9.5H9.4" fill="none" stroke="#1a1a1a" stroke-width="1.96" stroke-linecap="round" stroke-linejoin="round"/>
<path transform="translate(511.10 382.10) scale(0.560 0.690)" d="M1.5,0.3L2.4,1.4M1,2V9.9M3.6,1H9V9.6L7.9,9M3.4,3.6H6.9V8H3.4ZM3.4,5.8H6.9" fill="none" stroke="#1a1a1a" stroke-width="1.96" stroke-linecap="round" stroke-linejoin="round"/>
<path transform="translate(676.50 269.70) scale(0.560 0.690)" d="M1.6,1.5H7.6V5.5L6.4,5.2M4.1,1.5V9.3M0.8,9.3H9.4" fill="none" stroke="#1a1a1a" stroke-width="1.96" stroke-linecap="round" stroke-linejoin="round"/>
<path transform="translate(682.55 269.70) scale(0.560 0.690)" d="M2.6,0.5L1,4M2,2.8H8.6M5,0.3V9.5M2.6,6H7.6M0.8,9.5H9.4" fill="none" stroke="#1a1a1a" stroke-width="1.96" stroke-linecap="round" stroke-linejoin="round"/>
<path transform="translate(688.60 269.70) scale(0.560 0.690)" d="M1.5,0.3L2.4,1.4M1,2V9.9M3.6,1H9V9.6L7.9,9M3.4,3.6H6.9V8H3.4ZM3.4,5.8H6.9" fill="none" stroke="#1a1a1a" stroke-width="1.96" stroke-linecap="round" stroke-linejoin="round"/>
<path transform="translate(646.90 349.90) scale(0.700 0.710)" d="M0.8,1.8L2,3M0.8,8.2L2.6,5.4M5.2,0.4L3.8,3.2M4.6,2.4H9.2L8.4,4M6.6,3V5.4Q6,7.6 3.4,9.7M6.6,5.4Q7.4,8 9.7,9.6" fill="none" stroke="#1a1a1a" stroke-width="1.57" stroke-linecap="round" stroke-linejoin="round"/>
<path transform="translate(654.50 349.90) scale(0.700 0.710)" d="M0.9,1V9.2M0.9,1H5.2M0.9,9.2H5.2M0.9,3.6H4.6V6.6H0.9M2.9,1V3.6M2.9,6.6V9.2M7.2,0.4V10M7.2,4L9.7,5.7" fill="none" stroke="#1a1a1a" stroke-width="1.57" stroke-linecap="round" stroke-linejoin="round"/>
<path transform="translate(662.10 349.90) scale(0.700 0.710)" d="M5,0V1.3M1,3.1V1.6H9V3.1M2.6,3.5H7.6M5.2,3.5L3,5.5L7.6,5.2M3,7.1H7.2M5,5.9V9.6M1.3,9.6H8.8" fill="none" stroke="#1a1a1a" stroke-width="1.57" stroke-linecap="round" stroke-linejoin="round"/>
<text x="536.0" y="170.1" font-size="7.4" fill="#1a1a1a" font-weight="bold" text-anchor="start" textLength="53.6" lengthAdjust="spacingAndGlyphs" font-family="Liberation Mono" xml:space="preserve" stroke="#1a1a1a" stroke-width="0.3">SECOND BEDROOM</text>
<text x="610.2" y="206.8" font-size="7.96" fill="#1a1a1a" font-weight="bold" text-anchor="start" textLength="42.6" lengthAdjust="spacingAndGlyphs" font-family="Liberation Mono" xml:space="preserve" stroke="#1a1a1a" stroke-width="0.3">MASTER BEDROOM</text>
<text x="408.9" y="246.2" font-size="7.68" fill="#1a1a1a" font-weight="bold" text-anchor="start" textLength="37.4" lengthAdjust="spacingAndGlyphs" font-family="Liberation Mono" xml:space="preserve" stroke="#1a1a1a" stroke-width="0.3">LIVING  AREA</text>
<text x="391.9" y="407.6" font-size="7.96" fill="#1a1a1a" font-weight="bold" text-anchor="start" textLength="34.1" lengthAdjust="spacingAndGlyphs" font-family="Liberation Mono" xml:space="preserve" stroke="#1a1a1a" stroke-width="0.3">DINING ROOM</text>
<text x="435.0" y="458.6" font-size="7.96" fill="#1a1a1a" font-weight="bold" text-anchor="start" textLength="22.5" lengthAdjust="spacingAndGlyphs" font-family="Liberation Mono" xml:space="preserve" stroke="#1a1a1a" stroke-width="0.3">KITCHEN</text>
<text x="564.3" y="386.0" font-size="7.96" fill="#1a1a1a" font-weight="bold" text-anchor="start" textLength="15.4" lengthAdjust="spacingAndGlyphs" font-family="Liberation Mono" xml:space="preserve" stroke="#1a1a1a" stroke-width="0.3">STUDY</text>
<text x="499.3" y="396.8" font-size="7.4" fill="#1a1a1a" font-weight="bold" text-anchor="start" textLength="17.6" lengthAdjust="spacingAndGlyphs" font-family="Liberation Mono" xml:space="preserve" stroke="#1a1a1a" stroke-width="0.3">TOILET</text>
<text x="676.5" y="283.6" font-size="7.4" fill="#1a1a1a" font-weight="bold" text-anchor="start" textLength="17.6" lengthAdjust="spacingAndGlyphs" font-family="Liberation Mono" xml:space="preserve" stroke="#1a1a1a" stroke-width="0.3">TOILET</text>
<text x="622.1" y="366.9" font-size="7.4" fill="#1a1a1a" font-weight="bold" text-anchor="start" textLength="52.9" lengthAdjust="spacingAndGlyphs" font-family="Liberation Mono" xml:space="preserve" stroke="#1a1a1a" stroke-width="0.3">SECOND BEDROOM</text>
<text x="416.3" y="62.0" font-size="4.8" fill="#111" font-weight="bold" text-anchor="start" textLength="17.4" lengthAdjust="spacingAndGlyphs" >CH:2053</text>
<text x="416.3" y="68.2" font-size="4.8" fill="#111" font-weight="bold" text-anchor="start" textLength="14.9" lengthAdjust="spacingAndGlyphs" >CK:409</text>
<text x="545.4" y="62.0" font-size="4.8" fill="#111" font-weight="bold" text-anchor="start" textLength="17.4" lengthAdjust="spacingAndGlyphs" >CH:1770</text>
<text x="545.4" y="68.2" font-size="4.8" fill="#111" font-weight="bold" text-anchor="start" textLength="14.9" lengthAdjust="spacingAndGlyphs" >CK:680</text>
<text x="649.3" y="62.0" font-size="4.8" fill="#111" font-weight="bold" text-anchor="start" textLength="17.4" lengthAdjust="spacingAndGlyphs" >CH:1667</text>
<text x="649.3" y="68.0" font-size="4.8" fill="#111" font-weight="bold" text-anchor="start" textLength="14.9" lengthAdjust="spacingAndGlyphs" >CK:753</text>
<text x="731.9" y="286.9" font-size="4.8" fill="#111" font-weight="bold" text-anchor="start" textLength="17.4" lengthAdjust="spacingAndGlyphs" >CH:1460</text>
<text x="731.9" y="292.7" font-size="4.8" fill="#111" font-weight="bold" text-anchor="start" textLength="17.4" lengthAdjust="spacingAndGlyphs" >CK:1000</text>
<text x="514.2" y="446.9" font-size="4.8" fill="#111" font-weight="bold" text-anchor="start" textLength="17.4" lengthAdjust="spacingAndGlyphs" >CH:1457</text>
<text x="514.2" y="452.6" font-size="4.8" fill="#111" font-weight="bold" text-anchor="start" textLength="17.4" lengthAdjust="spacingAndGlyphs" >CK:1000</text>
<text x="512.7" y="467.8" font-size="4.8" fill="#111" font-weight="bold" text-anchor="start" textLength="17.4" lengthAdjust="spacingAndGlyphs" >CH:1463</text>
<text x="512.7" y="473.8" font-size="4.8" fill="#111" font-weight="bold" text-anchor="start" textLength="17.4" lengthAdjust="spacingAndGlyphs" >CK:1006</text>
<text x="569.3" y="446.9" font-size="4.8" fill="#111" font-weight="bold" text-anchor="start" textLength="17.4" lengthAdjust="spacingAndGlyphs" >CH:1470</text>
<text x="569.3" y="452.6" font-size="4.8" fill="#111" font-weight="bold" text-anchor="start" textLength="14.9" lengthAdjust="spacingAndGlyphs" >CK:970</text>
<text x="664.7" y="446.9" font-size="4.8" fill="#111" font-weight="bold" text-anchor="start" textLength="17.4" lengthAdjust="spacingAndGlyphs" >CH:1460</text>
<text x="664.7" y="452.6" font-size="4.8" fill="#111" font-weight="bold" text-anchor="start" textLength="14.9" lengthAdjust="spacingAndGlyphs" >CK:965</text>
</svg>
</body></html>
